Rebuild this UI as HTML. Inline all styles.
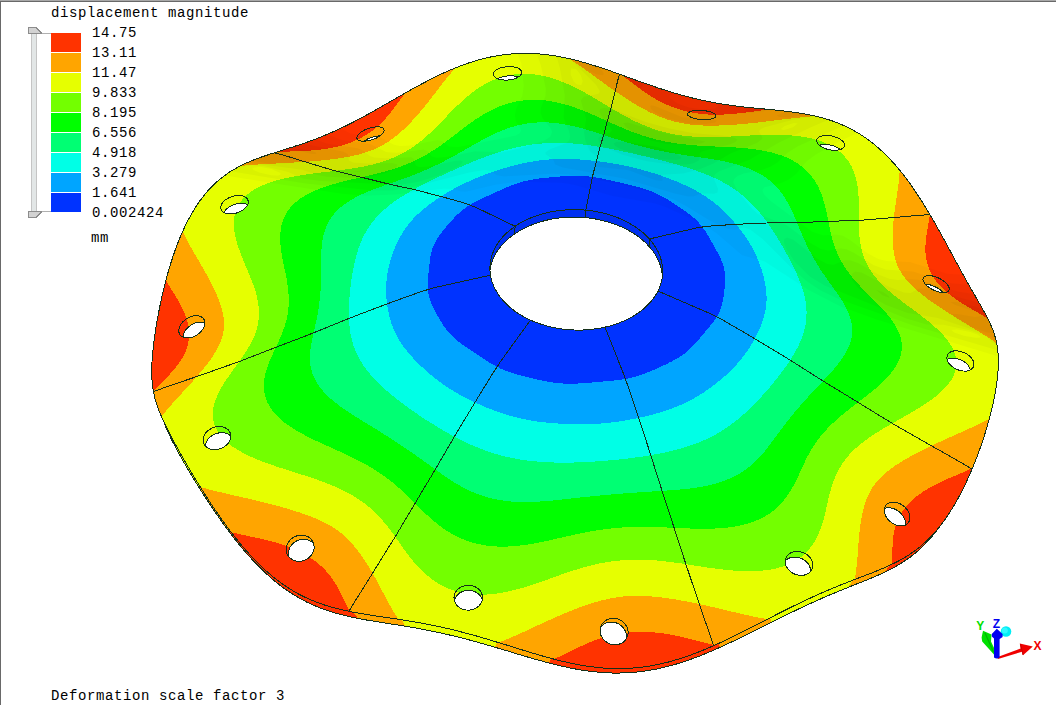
<!DOCTYPE html>
<html><head><meta charset="utf-8"><title>displacement magnitude</title>
<style>
html,body{margin:0;padding:0;background:#fff;}
body{width:1056px;height:705px;position:relative;overflow:hidden;font-family:"Liberation Mono",monospace;color:#000;}
.t{position:absolute;font-size:14px;line-height:14px;letter-spacing:0.6px;white-space:pre;}
.sw{position:absolute;left:51px;width:30px;height:19px;}
</style></head><body>
<div style="position:absolute;left:0;top:0;width:1056px;height:1px;background:#a8a8a8"></div>
<div style="position:absolute;left:0;top:1px;width:1056px;height:1px;background:#696969"></div>
<div style="position:absolute;left:0;top:1px;width:1px;height:704px;background:#696969"></div>
<svg width="1056" height="705" viewBox="0 0 1056 705" style="position:absolute;left:0;top:0" shape-rendering="crispEdges">
<defs><clipPath id="oc"><path d="M998.3 363.3L998.3 361.1L998.3 358.9L998.2 356.7L998.1 354.6L998 352.6L997.8 350.6L997.5 348.6L997.3 346.7L996.9 344.8L996.6 342.9L996.2 341.1L995.8 339.3L995.3 337.5L994.8 335.8L994.3 334L993.7 332.3L993.1 330.6L992.5 329L991.8 327.3L991.1 325.6L990.4 324L989.6 322.3L988.8 320.7L988 319L987.2 317.4L986.3 315.7L985.4 314L984.5 312.3L983.5 310.5L982.5 308.8L981.5 307L980.5 305.2L979.4 303.3L978.3 301.5L977.2 299.5L976.1 297.6L975 295.6L973.8 293.6L972.6 291.5L971.4 289.4L970.2 287.2L968.9 285L967.6 282.7L966.3 280.4L965 278L963.7 275.6L962.3 273.2L960.9 270.7L959.5 268.1L958.1 265.5L956.7 262.9L955.2 260.2L953.7 257.4L952.2 254.7L950.7 251.8L949.1 249L947.6 246.1L946 243.2L944.4 240.2L942.7 237.2L941.1 234.2L939.4 231.1L937.7 228.1L935.9 225L934.2 221.9L932.4 218.8L930.6 215.7L928.7 212.6L926.9 209.5L925 206.4L923.1 203.3L921.1 200.2L919.1 197.1L917.1 194L915.1 191L913.1 188L911 185L908.8 182L906.7 179.1L904.5 176.3L902.3 173.4L900.1 170.6L897.8 167.9L895.5 165.2L893.1 162.6L890.8 160L888.4 157.5L886 155L883.5 152.6L881 150.3L878.5 148L875.9 145.8L873.3 143.7L870.7 141.7L868.1 139.7L865.4 137.8L862.7 135.9L860 134.2L857.2 132.5L854.4 130.9L851.6 129.3L848.7 127.9L845.9 126.5L843 125.2L840 123.9L837.1 122.7L834.1 121.6L831.1 120.5L828.1 119.6L825 118.6L822 117.8L818.9 117L815.8 116.2L812.6 115.5L809.5 114.8L806.3 114.2L803.1 113.7L799.9 113.1L796.7 112.6L793.4 112.2L790.2 111.7L786.9 111.3L783.6 111L780.3 110.6L777 110.2L773.7 109.9L770.3 109.6L767 109.3L763.6 108.9L760.2 108.6L756.8 108.3L753.5 107.9L750.1 107.6L746.6 107.2L743.2 106.9L739.8 106.5L736.4 106L732.9 105.6L729.5 105.1L726 104.6L722.6 104.1L719.1 103.5L715.6 102.9L712.1 102.3L708.6 101.6L705.2 100.9L701.7 100.1L698.2 99.3L694.6 98.5L691.1 97.7L687.6 96.7L684.1 95.8L680.6 94.8L677 93.8L673.5 92.8L669.9 91.7L666.4 90.6L662.8 89.4L659.3 88.3L655.7 87.1L652.2 85.8L648.6 84.6L645 83.3L641.4 82.1L637.8 80.8L634.2 79.5L630.6 78.2L627 76.9L623.4 75.6L619.8 74.3L616.2 73L612.5 71.7L608.9 70.4L605.3 69.2L601.6 68L598 66.8L594.3 65.6L590.7 64.5L587 63.4L583.4 62.3L579.7 61.3L576 60.3L572.4 59.4L568.7 58.6L565 57.7L561.3 57L557.6 56.3L554 55.7L550.3 55.2L546.6 54.7L542.9 54.3L539.2 53.9L535.5 53.7L531.8 53.5L528.2 53.4L524.5 53.4L520.8 53.4L517.1 53.6L513.5 53.8L509.8 54.1L506.1 54.5L502.5 54.9L498.8 55.5L495.2 56.1L491.5 56.8L487.9 57.6L484.2 58.4L480.6 59.4L477 60.4L473.4 61.5L469.8 62.6L466.2 63.8L462.7 65.1L459.1 66.5L455.5 67.9L452 69.3L448.5 70.8L444.9 72.4L441.4 74L437.9 75.7L434.5 77.4L431 79.1L427.5 80.9L424.1 82.7L420.6 84.5L417.2 86.4L413.8 88.2L410.4 90.1L407.1 92L403.7 93.9L400.4 95.8L397 97.7L393.7 99.6L390.4 101.5L387.1 103.4L383.8 105.3L380.6 107.1L377.3 109L374.1 110.8L370.9 112.6L367.7 114.4L364.5 116.1L361.4 117.8L358.2 119.5L355.1 121.1L351.9 122.8L348.8 124.3L345.7 125.9L342.7 127.3L339.6 128.8L336.6 130.2L333.5 131.6L330.5 132.9L327.5 134.2L324.5 135.4L321.6 136.7L318.6 137.8L315.7 139L312.8 140.1L309.9 141.1L307 142.2L304.1 143.2L301.2 144.2L298.4 145.1L295.6 146L292.8 147L290 147.8L287.2 148.7L284.5 149.6L281.8 150.4L279.1 151.3L276.4 152.1L273.7 153L271 153.8L268.4 154.7L265.8 155.6L263.2 156.4L260.7 157.3L258.1 158.3L255.6 159.2L253.1 160.2L250.6 161.2L248.2 162.2L245.7 163.3L243.4 164.4L241 165.6L238.6 166.8L236.3 168.1L234 169.4L231.8 170.7L229.5 172.1L227.3 173.6L225.1 175.2L223 176.8L220.9 178.4L218.8 180.1L216.7 181.9L214.7 183.8L212.7 185.7L210.8 187.7L208.8 189.8L206.9 191.9L205.1 194.1L203.3 196.4L201.5 198.7L199.7 201.1L198 203.6L196.3 206.1L194.6 208.7L193 211.4L191.4 214.1L189.9 216.9L188.3 219.7L186.9 222.6L185.4 225.5L184 228.5L182.6 231.5L181.3 234.6L179.9 237.8L178.7 240.9L177.4 244.1L176.2 247.3L175 250.6L173.9 253.9L172.7 257.2L171.7 260.5L170.6 263.8L169.6 267.2L168.6 270.5L167.6 273.9L166.7 277.2L165.8 280.6L165 283.9L164.1 287.3L163.3 290.6L162.5 293.9L161.8 297.2L161.1 300.4L160.4 303.7L159.7 306.9L159.1 310L158.5 313.2L157.9 316.3L157.3 319.3L156.8 322.3L156.3 325.3L155.8 328.2L155.4 331.1L155 333.9L154.6 336.7L154.2 339.5L153.8 342.1L153.5 344.8L153.2 347.3L153 349.8L152.7 352.3L152.5 354.7L152.3 357.1L152.2 359.4L152 361.7L151.9 363.9L151.8 366L151.8 368.1L151.8 370.2L151.8 372.2L151.8 374.2L151.8 376.2L151.9 378.1L152 380L152.2 381.8L152.3 383.6L152.5 385.4L152.7 387.2L153 388.9L153.3 390.6L153.6 392.3L153.9 394L154.3 395.7L154.7 397.4L155.1 399.1L155.6 400.8L156.1 402.5L156.7 404.1L157.2 405.8L157.8 407.6L158.5 409.3L159.1 411L159.8 412.8L160.6 414.6L161.4 416.4L162.2 418.2L163 420.1L163.9 422L164.8 423.9L165.8 425.9L166.8 427.9L167.8 430L168.8 432L169.9 434.2L171.1 436.3L172.3 438.6L173.5 440.8L174.7 443.1L176 445.5L177.3 447.8L178.7 450.3L180 452.8L181.5 455.3L182.9 457.8L184.4 460.4L186 463.1L187.5 465.8L189.1 468.5L190.7 471.3L192.4 474L194.1 476.9L195.8 479.7L197.6 482.6L199.4 485.5L201.2 488.5L203.1 491.4L205 494.4L206.9 497.4L208.8 500.4L210.8 503.4L212.8 506.4L214.8 509.4L216.9 512.4L219 515.5L221.1 518.5L223.2 521.5L225.4 524.5L227.6 527.5L229.8 530.4L232 533.3L234.3 536.3L236.6 539.1L238.9 542L241.2 544.8L243.6 547.6L245.9 550.3L248.3 553L250.7 555.7L253.2 558.3L255.6 560.8L258.1 563.3L260.6 565.7L263.1 568.1L265.6 570.5L268.2 572.7L270.8 574.9L273.3 577.1L276 579.1L278.6 581.1L281.2 583.1L283.9 585L286.6 586.8L289.3 588.5L292 590.2L294.7 591.8L297.5 593.4L300.2 594.9L303 596.3L305.8 597.6L308.7 598.9L311.5 600.2L314.4 601.3L317.3 602.4L320.2 603.5L323.1 604.5L326 605.5L329 606.4L331.9 607.2L334.9 608.1L337.9 608.8L341 609.6L344 610.3L347.1 610.9L350.2 611.6L353.3 612.2L356.4 612.8L359.5 613.3L362.7 613.8L365.9 614.4L369 614.9L372.3 615.4L375.5 615.9L378.7 616.4L382 616.8L385.3 617.3L388.6 617.8L391.9 618.3L395.2 618.8L398.6 619.3L401.9 619.8L405.3 620.4L408.7 620.9L412.1 621.5L415.5 622.1L418.9 622.7L422.4 623.3L425.9 623.9L429.3 624.6L432.8 625.3L436.3 626L439.8 626.8L443.4 627.6L446.9 628.4L450.4 629.2L454 630.1L457.6 631L461.1 631.9L464.7 632.8L468.3 633.8L471.9 634.7L475.5 635.7L479.1 636.8L482.7 637.8L486.3 638.9L490 640L493.6 641.1L497.2 642.2L500.9 643.3L504.5 644.4L508.2 645.5L511.8 646.7L515.5 647.8L519.1 649L522.8 650.1L526.4 651.2L530.1 652.3L533.7 653.4L537.4 654.5L541.1 655.6L544.7 656.6L548.4 657.6L552 658.6L555.7 659.6L559.4 660.5L563 661.4L566.7 662.2L570.3 663L574 663.8L577.6 664.5L581.3 665.2L584.9 665.8L588.6 666.3L592.2 666.8L595.9 667.3L599.5 667.7L603.2 668L606.8 668.2L610.5 668.4L614.1 668.5L617.7 668.6L621.4 668.6L625 668.5L628.6 668.3L632.3 668.1L635.9 667.8L639.5 667.4L643.2 667L646.8 666.5L650.4 665.9L654 665.2L657.6 664.5L661.3 663.7L664.9 662.9L668.5 662L672.1 661L675.7 659.9L679.3 658.8L682.9 657.7L686.5 656.5L690.1 655.2L693.7 653.9L697.2 652.5L700.8 651.1L704.4 649.6L708 648.1L711.5 646.6L715.1 645L718.6 643.4L722.1 641.8L725.7 640.1L729.2 638.5L732.7 636.8L736.2 635.1L739.6 633.3L743.1 631.6L746.6 629.9L750 628.1L753.4 626.4L756.9 624.6L760.3 622.9L763.7 621.1L767 619.4L770.4 617.7L773.7 616L777 614.3L780.3 612.6L783.6 611L786.9 609.3L790.1 607.7L793.3 606.1L796.5 604.6L799.7 603L802.9 601.5L806 600.1L809.1 598.6L812.2 597.2L815.2 595.8L818.3 594.5L821.3 593.1L824.3 591.8L827.2 590.6L830.2 589.3L833.1 588.1L835.9 586.9L838.8 585.7L841.6 584.6L844.4 583.5L847.2 582.4L849.9 581.3L852.6 580.3L855.3 579.2L858 578.2L860.6 577.2L863.2 576.2L865.8 575.2L868.3 574.2L870.9 573.3L873.4 572.3L875.8 571.3L878.3 570.3L880.7 569.3L883.1 568.3L885.5 567.2L887.8 566.2L890.1 565.1L892.4 564L894.7 562.9L897 561.8L899.2 560.6L901.4 559.4L903.6 558.2L905.7 556.9L907.9 555.5L910 554.2L912.1 552.7L914.1 551.3L916.2 549.8L918.2 548.2L920.3 546.6L922.2 544.9L924.2 543.1L926.2 541.3L928.1 539.5L930 537.5L931.9 535.5L933.8 533.5L935.7 531.4L937.5 529.2L939.3 527L941.1 524.7L942.9 522.3L944.7 519.9L946.4 517.4L948.1 514.8L949.8 512.2L951.5 509.6L953.2 506.8L954.8 504.1L956.5 501.2L958.1 498.4L959.6 495.4L961.2 492.5L962.7 489.4L964.2 486.4L965.7 483.3L967.2 480.2L968.6 477L970 473.8L971.4 470.6L972.8 467.4L974.1 464.1L975.4 460.8L976.7 457.5L977.9 454.3L979.1 451L980.3 447.7L981.5 444.4L982.6 441.1L983.7 437.8L984.7 434.5L985.7 431.2L986.7 428L987.6 424.8L988.5 421.5L989.4 418.4L990.2 415.2L991 412.1L991.8 409L992.5 406L993.2 403L993.8 400L994.4 397.1L995 394.2L995.5 391.3L995.9 388.5L996.4 385.8L996.8 383.1L997.1 380.4L997.4 377.9L997.7 375.3L997.9 372.8L998.1 370.4L998.2 368L998.3 365.6Z"/></clipPath></defs>
<path d="M997.3 346.7L996.9 344.8L996.6 342.9L996.2 341.1L995.8 339.3L995.3 337.5L994.8 335.8L994.3 334L993.7 332.3L993.1 330.6L992.5 329L991.8 327.3L991.1 325.6L990.4 324L989.6 322.3L988.8 320.7L984.9 331L985.7 332.6L986.5 334.3L987.3 335.9L988 337.6L988.7 339.2L989.3 340.9L989.9 342.5L990.5 344.2L991.1 345.9L991.6 347.6L992.1 349.3L992.5 351.1L992.9 352.8L993.3 354.6L993.6 356.4Z" fill="#ffa500"/>
<path d="M988.8 320.7L988 319L987.2 317.4L986.3 315.7L985.4 314L984.5 312.3L983.5 310.5L982.5 308.8L981.5 307L980.5 305.2L979.4 303.3L978.3 301.5L977.2 299.5L976.1 297.6L975 295.6L973.8 293.6L972.6 291.5L971.4 289.4L970.2 287.2L968.9 285L967.6 282.7L966.3 280.4L965 278L963.7 275.6L962.3 273.2L960.9 270.7L959.5 268.1L958.1 265.5L956.7 262.9L955.2 260.2L953.7 257.4L952.2 254.7L950.7 251.8L949.1 249L947.6 246.1L946 243.2L944.4 240.2L942.7 237.2L941.1 234.2L939.4 231.1L937.7 228.1L935.9 225L934.2 221.9L932.4 218.8L930.6 215.7L928.7 212.6L926.9 209.5L921.2 216.5L923 219.6L924.8 222.7L926.6 225.8L928.4 229L930.2 232.1L932 235.2L933.7 238.3L935.4 241.4L937.1 244.5L938.8 247.6L940.5 250.6L942.1 253.6L943.7 256.6L945.3 259.6L946.9 262.5L948.5 265.4L950 268.2L951.6 271.1L953.1 273.8L954.6 276.5L956 279.2L957.5 281.8L958.9 284.4L960.3 287L961.7 289.4L963 291.9L964.4 294.2L965.7 296.5L967 298.8L968.3 301L969.5 303.2L970.7 305.3L971.9 307.4L973.1 309.4L974.2 311.4L975.3 313.3L976.4 315.2L977.5 317.1L978.5 318.9L979.5 320.7L980.5 322.5L981.4 324.2L982.3 325.9L983.2 327.6L984.1 329.3L984.9 331Z" fill="#ff3300"/>
<path d="M926.9 209.5L925 206.4L923.1 203.3L921.1 200.2L919.1 197.1L917.1 194L915.1 191L913.1 188L911 185L908.8 182L906.7 179.1L904.5 176.3L902.3 173.4L900.1 170.6L897.8 167.9L895.5 165.2L890.9 173.2L893.1 175.8L895.2 178.4L897.4 181.1L899.5 183.8L901.5 186.6L903.6 189.4L905.6 192.3L907.6 195.2L909.6 198.2L911.6 201.2L913.6 204.2L915.5 207.2L917.4 210.3L919.3 213.4L921.2 216.5Z" fill="#ffa500"/>
<path d="M895.5 165.2L893.1 162.6L890.8 160L888.4 157.5L886 155L883.5 152.6L881 150.3L878.5 148L875.9 145.8L873.3 143.7L870.7 141.7L868.1 139.7L865.4 137.8L862.7 135.9L860 134.2L857.2 132.5L854.4 130.9L851.6 129.3L848.7 127.9L845.9 126.5L843 125.2L840 123.9L837.1 122.7L834.1 121.6L831.1 120.5L828.1 119.6L825 118.6L822 117.8L821.9 128.7L824.8 129.5L827.7 130.4L830.6 131.3L833.5 132.3L836.3 133.3L839.1 134.4L841.9 135.6L844.6 136.8L847.3 138.1L850 139.5L852.6 140.9L855.3 142.4L857.8 144L860.4 145.6L862.9 147.3L865.4 149.1L867.8 151L870.3 152.9L872.7 154.9L875 156.9L877.4 159.1L879.7 161.3L882 163.5L884.3 165.8L886.5 168.2L888.7 170.7L890.9 173.2Z" fill="#e6ff00"/>
<path d="M822 117.8L818.9 117L815.8 116.2L812.6 115.5L809.5 114.8L806.3 114.2L803.1 113.7L799.9 113.1L796.7 112.6L793.4 112.2L790.2 111.7L786.9 111.3L783.6 111L780.3 110.6L777 110.2L773.7 109.9L774.4 121.2L777.7 121.5L781 121.8L784.3 122.2L787.6 122.6L790.8 123L794 123.4L797.2 123.8L800.4 124.3L803.5 124.8L806.7 125.3L809.8 125.9L812.8 126.6L815.9 127.2L818.9 127.9L821.9 128.7Z" fill="#ffa500"/>
<path d="M773.7 109.9L770.3 109.6L767 109.3L763.6 108.9L760.2 108.6L756.8 108.3L753.5 107.9L750.1 107.6L746.6 107.2L743.2 106.9L739.8 106.5L736.4 106L732.9 105.6L729.5 105.1L726 104.6L722.6 104.1L719.1 103.5L715.6 102.9L712.1 102.3L708.6 101.6L705.2 100.9L701.7 100.1L698.2 99.3L694.6 98.5L691.1 97.7L687.6 96.7L684.1 95.8L680.6 94.8L677 93.8L673.5 92.8L669.9 91.7L666.4 90.6L662.8 89.4L659.3 88.3L655.7 87.1L652.2 85.8L648.6 84.6L645 83.3L641.4 82.1L637.8 80.8L634.2 79.5L630.6 78.2L627 76.9L623.4 75.6L619.8 74.3L616.2 73L612.5 71.7L608.4 81.8L612.1 83.1L615.7 84.4L619.3 85.7L623 87L626.6 88.4L630.3 89.7L633.9 91L637.6 92.3L641.2 93.6L644.9 94.9L648.6 96.2L652.3 97.4L655.9 98.7L659.6 99.9L663.3 101.1L667 102.2L670.7 103.4L674.4 104.5L678.1 105.5L681.8 106.5L685.5 107.5L689.2 108.5L692.8 109.4L696.5 110.2L700.2 111.1L703.9 111.9L707.5 112.6L711.2 113.3L714.8 114L718.4 114.6L722.1 115.2L725.7 115.8L729.2 116.3L732.8 116.8L736.4 117.2L739.9 117.7L743.4 118.1L747 118.5L750.4 118.8L753.9 119.2L757.4 119.5L760.8 119.9L764.2 120.2L767.6 120.5L771 120.8L774.4 121.2Z" fill="#ff3300"/>
<path d="M612.5 71.7L608.9 70.4L605.3 69.2L601.6 68L598 66.8L594.3 65.6L590.7 64.5L587 63.4L583.4 62.3L579.7 61.3L576 60.3L572.4 59.4L568.7 58.6L565 57.7L561.3 57L557.6 56.3L554.9 66.6L558.5 67.3L562 68L565.5 68.8L569 69.6L572.6 70.5L576.1 71.5L579.7 72.5L583.3 73.5L586.9 74.6L590.4 75.7L594 76.9L597.6 78.1L601.2 79.3L604.8 80.6L608.4 81.8Z" fill="#ffa500"/>
<path d="M557.6 56.3L554 55.7L550.3 55.2L546.6 54.7L542.9 54.3L539.2 53.9L535.5 53.7L531.8 53.5L528.2 53.4L524.5 53.4L520.8 53.4L517.1 53.6L513.5 53.8L509.8 54.1L506.1 54.5L502.5 54.9L498.8 55.5L495.2 56.1L491.5 56.8L487.9 57.6L484.2 58.4L480.6 59.4L477 60.4L473.4 61.5L469.8 62.6L466.2 63.8L462.7 65.1L459.1 66.5L462.4 76.2L465.8 74.9L469.2 73.6L472.6 72.5L476 71.4L479.4 70.3L482.8 69.4L486.2 68.5L489.6 67.7L493 66.9L496.4 66.2L499.8 65.7L503.2 65.1L506.6 64.7L510 64.4L513.4 64.1L516.9 63.9L520.3 63.7L523.7 63.7L527.2 63.7L530.6 63.8L534.1 64L537.5 64.3L541 64.6L544.5 65L547.9 65.5L551.4 66L554.9 66.6Z" fill="#e6ff00"/>
<path d="M459.1 66.5L455.5 67.9L452 69.3L448.5 70.8L444.9 72.4L441.4 74L437.9 75.7L434.5 77.4L431 79.1L427.5 80.9L424.1 82.7L420.6 84.5L417.2 86.4L413.8 88.2L410.4 90.1L407.1 92L411.6 101.4L415 99.5L418.4 97.6L421.8 95.8L425.1 93.9L428.5 92.1L431.9 90.3L435.3 88.6L438.7 86.9L442.1 85.2L445.5 83.6L448.9 82L452.3 80.4L455.7 79L459.1 77.5L462.4 76.2Z" fill="#ffa500"/>
<path d="M407.1 92L403.7 93.9L400.4 95.8L397 97.7L393.7 99.6L390.4 101.5L387.1 103.4L383.8 105.3L380.6 107.1L377.3 109L374.1 110.8L370.9 112.6L367.7 114.4L364.5 116.1L361.4 117.8L358.2 119.5L355.1 121.1L351.9 122.8L348.8 124.3L345.7 125.9L342.7 127.3L339.6 128.8L336.6 130.2L333.5 131.6L330.5 132.9L327.5 134.2L324.5 135.4L321.6 136.7L318.6 137.8L315.7 139L312.8 140.1L309.9 141.1L307 142.2L304.1 143.2L301.2 144.2L298.4 145.1L295.6 146L292.8 147L290 147.8L287.2 148.7L284.5 149.6L281.8 150.4L279.1 151.3L276.4 152.1L273.7 153L271 153.8L268.4 154.7L268.8 166L271.5 165.1L274.1 164.3L276.8 163.4L279.5 162.6L282.3 161.7L285 160.8L287.8 160L290.7 159.1L293.5 158.2L296.4 157.2L299.3 156.3L302.2 155.3L305.1 154.3L308.1 153.2L311.1 152.2L314.1 151.1L317.2 149.9L320.2 148.7L323.3 147.5L326.4 146.2L329.5 144.9L332.7 143.6L335.8 142.2L339 140.7L342.2 139.2L345.4 137.7L348.7 136.2L351.9 134.6L355.1 132.9L358.4 131.2L361.7 129.5L365 127.8L368.2 126L371.5 124.2L374.9 122.4L378.2 120.5L381.5 118.7L384.8 116.8L388.2 114.9L391.5 112.9L394.8 111L398.2 109.1L401.6 107.2L404.9 105.2L408.3 103.3L411.6 101.4Z" fill="#ff3300"/>
<path d="M268.4 154.7L265.8 155.6L263.2 156.4L260.7 157.3L258.1 158.3L255.6 159.2L253.1 160.2L250.6 161.2L248.2 162.2L245.7 163.3L243.4 164.4L241 165.6L238.6 166.8L236.3 168.1L234 169.4L231.8 170.7L232.8 181.5L234.9 180.2L237.2 178.9L239.4 177.7L241.7 176.6L244 175.5L246.4 174.4L248.7 173.4L251.1 172.4L253.6 171.4L256.1 170.4L258.6 169.5L261.1 168.6L263.6 167.7L266.2 166.8L268.8 166Z" fill="#ffa500"/>
<path d="M231.8 170.7L229.5 172.1L227.3 173.6L225.1 175.2L223 176.8L220.9 178.4L218.8 180.1L216.7 181.9L214.7 183.8L212.7 185.7L210.8 187.7L208.8 189.8L206.9 191.9L205.1 194.1L203.3 196.4L201.5 198.7L199.7 201.1L198 203.6L196.3 206.1L194.6 208.7L193 211.4L191.4 214.1L189.9 216.9L188.3 219.7L186.9 222.6L185.4 225.5L184 228.5L182.6 231.5L186.7 238.6L188 235.7L189.3 232.8L190.6 230L192 227.3L193.4 224.6L194.8 222L196.3 219.4L197.8 217L199.3 214.5L200.9 212.1L202.5 209.8L204.1 207.6L205.8 205.4L207.5 203.3L209.2 201.3L211 199.3L212.8 197.4L214.6 195.5L216.5 193.7L218.4 192L220.4 190.3L222.3 188.7L224.4 187.1L226.4 185.6L228.5 184.2L230.6 182.8L232.8 181.5Z" fill="#e6ff00"/>
<path d="M182.6 231.5L181.3 234.6L179.9 237.8L178.7 240.9L177.4 244.1L176.2 247.3L175 250.6L173.9 253.9L172.7 257.2L171.7 260.5L170.6 263.8L169.6 267.2L168.6 270.5L167.6 273.9L166.7 277.2L171.5 283.3L172.4 280L173.4 276.6L174.3 273.3L175.3 270L176.3 266.7L177.4 263.4L178.4 260.2L179.5 257L180.7 253.8L181.8 250.7L183 247.6L184.2 244.6L185.4 241.6L186.7 238.6Z" fill="#ffa500"/>
<path d="M166.7 277.2L165.8 280.6L165 283.9L164.1 287.3L163.3 290.6L162.5 293.9L161.8 297.2L161.1 300.4L160.4 303.7L159.7 306.9L159.1 310L158.5 313.2L157.9 316.3L157.3 319.3L156.8 322.3L156.3 325.3L155.8 328.2L155.4 331.1L155 333.9L154.6 336.7L154.2 339.5L153.8 342.1L153.5 344.8L153.2 347.3L153 349.8L152.7 352.3L152.5 354.7L152.3 357.1L152.2 359.4L152 361.7L151.9 363.9L151.8 366L151.8 368.1L151.8 370.2L151.8 372.2L151.8 374.2L151.8 376.2L151.9 378.1L152 380L152.2 381.8L152.3 383.6L152.5 385.4L152.7 387.2L153 388.9L153.3 390.6L153.6 392.3L153.9 394L154.3 395.7L158.7 405.3L158.4 403.6L158 401.9L157.7 400.2L157.5 398.4L157.2 396.7L157 394.9L156.8 393.1L156.6 391.2L156.5 389.3L156.4 387.4L156.3 385.5L156.2 383.5L156.2 381.4L156.2 379.3L156.2 377.2L156.3 375L156.4 372.7L156.5 370.4L156.6 368L156.8 365.6L157 363.1L157.2 360.6L157.5 358L157.8 355.4L158.1 352.7L158.4 349.9L158.8 347.1L159.1 344.3L159.6 341.4L160 338.4L160.5 335.4L161 332.4L161.5 329.3L162 326.1L162.6 323L163.2 319.8L163.8 316.6L164.5 313.3L165.2 310L165.9 306.7L166.6 303.4L167.4 300.1L168.1 296.7L169 293.4L169.8 290L170.6 286.7L171.5 283.3Z" fill="#ff3300"/>
<path d="M154.3 395.7L154.7 397.4L155.1 399.1L155.6 400.8L156.1 402.5L156.7 404.1L157.2 405.8L157.8 407.6L158.5 409.3L159.1 411L159.8 412.8L160.6 414.6L161.4 416.4L162.2 418.2L163 420.1L166.8 429.2L166 427.4L165.3 425.6L164.6 423.9L163.9 422.1L163.2 420.4L162.6 418.7L162 417L161.5 415.3L160.9 413.7L160.4 412L160 410.3L159.5 408.6L159.1 407L158.7 405.3Z" fill="#ffa500"/>
<path d="M163 420.1L163.9 422L164.8 423.9L165.8 425.9L166.8 427.9L167.8 430L168.8 432L169.9 434.2L171.1 436.3L172.3 438.6L173.5 440.8L174.7 443.1L176 445.5L177.3 447.8L178.7 450.3L180 452.8L181.5 455.3L182.9 457.8L184.4 460.4L186 463.1L187.5 465.8L189.1 468.5L190.7 471.3L192.4 474L194.1 476.9L195.8 479.7L197.6 482.6L199.4 485.5L200.9 490.6L199.2 487.8L197.5 485.1L195.8 482.4L194.2 479.8L192.6 477.2L191 474.6L189.5 472L188 469.5L186.6 467.1L185.2 464.7L183.8 462.3L182.5 459.9L181.2 457.6L179.9 455.4L178.7 453.1L177.5 451L176.3 448.8L175.2 446.7L174.2 444.6L173.1 442.6L172.1 440.6L171.1 438.6L170.2 436.7L169.3 434.7L168.4 432.9L167.6 431L166.8 429.2Z" fill="#e6ff00"/>
<path d="M199.4 485.5L201.2 488.5L203.1 491.4L205 494.4L206.9 497.4L208.8 500.4L210.8 503.4L212.8 506.4L214.8 509.4L216.9 512.4L219 515.5L221.1 518.5L223.2 521.5L225.4 524.5L227.6 527.5L229.8 530.4L231 534.2L228.8 531.3L226.6 528.3L224.5 525.4L222.3 522.4L220.2 519.5L218.2 516.5L216.1 513.6L214.1 510.6L212.1 507.7L210.2 504.8L208.3 501.9L206.4 499L204.5 496.2L202.7 493.4L200.9 490.6Z" fill="#ffa500"/>
<path d="M229.8 530.4L232 533.3L234.3 536.3L236.6 539.1L238.9 542L241.2 544.8L243.6 547.6L245.9 550.3L248.3 553L250.7 555.7L253.2 558.3L255.6 560.8L258.1 563.3L260.6 565.7L263.1 568.1L265.6 570.5L268.2 572.7L270.8 574.9L273.3 577.1L276 579.1L278.6 581.1L281.2 583.1L283.9 585L286.6 586.8L289.3 588.5L292 590.2L294.7 591.8L297.5 593.4L300.2 594.9L303 596.3L305.8 597.6L308.7 598.9L311.5 600.2L314.4 601.3L317.3 602.4L320.2 603.5L323.1 604.5L326 605.5L329 606.4L331.9 607.2L334.9 608.1L337.9 608.8L341 609.6L344 610.3L347.1 610.9L350.2 611.6L353.3 612.2L358.2 618.4L355.1 617.8L352 617.2L348.9 616.5L345.9 615.8L342.8 615L339.7 614.2L336.7 613.4L333.7 612.5L330.6 611.6L327.6 610.6L324.6 609.6L321.6 608.5L318.6 607.3L315.7 606.1L312.7 604.8L309.8 603.5L306.8 602.1L303.9 600.6L301 599L298.1 597.4L295.3 595.7L292.4 594L289.6 592.1L286.8 590.2L284 588.3L281.2 586.2L278.5 584.1L275.7 581.9L273 579.7L270.4 577.4L267.7 575L265.1 572.6L262.5 570.1L259.9 567.6L257.3 565L254.8 562.4L252.3 559.7L249.8 557L247.4 554.3L245 551.5L242.6 548.7L240.2 545.8L237.9 543L235.6 540.1L233.3 537.2L231 534.2Z" fill="#ff3300"/>
<path d="M353.3 612.2L356.4 612.8L359.5 613.3L362.7 613.8L365.9 614.4L369 614.9L372.3 615.4L375.5 615.9L378.7 616.4L382 616.8L385.3 617.3L388.6 617.8L391.9 618.3L395.2 618.8L398.6 619.3L401.9 619.8L405.5 626.3L402.3 625.7L399.1 625.2L395.9 624.7L392.7 624.2L389.5 623.7L386.4 623.2L383.2 622.7L380.1 622.2L376.9 621.7L373.8 621.2L370.6 620.7L367.5 620.2L364.4 619.6L361.3 619L358.2 618.4Z" fill="#ffa500"/>
<path d="M401.9 619.8L405.3 620.4L408.7 620.9L412.1 621.5L415.5 622.1L418.9 622.7L422.4 623.3L425.9 623.9L429.3 624.6L432.8 625.3L436.3 626L439.8 626.8L443.4 627.6L446.9 628.4L450.4 629.2L454 630.1L457.6 631L461.1 631.9L464.7 632.8L468.3 633.8L471.9 634.7L475.5 635.7L479.1 636.8L482.7 637.8L486.3 638.9L490 640L493.6 641.1L497.2 642.2L494.9 647.2L491.5 646.2L488 645.2L484.6 644.2L481.1 643.2L477.7 642.3L474.3 641.3L470.9 640.4L467.6 639.5L464.2 638.6L460.9 637.8L457.5 636.9L454.2 636.1L450.9 635.3L447.6 634.6L444.3 633.8L441 633.1L437.7 632.4L434.5 631.7L431.2 631L428 630.3L424.8 629.7L421.5 629.1L418.3 628.5L415.1 627.9L411.9 627.4L408.7 626.8L405.5 626.3Z" fill="#e6ff00"/>
<path d="M497.2 642.2L500.9 643.3L504.5 644.4L508.2 645.5L511.8 646.7L515.5 647.8L519.1 649L522.8 650.1L526.4 651.2L530.1 652.3L533.7 653.4L537.4 654.5L541.1 655.6L544.7 656.6L548.4 657.6L552 658.6L548.6 662.9L544.9 661.9L541.3 660.9L537.6 659.9L534 658.9L530.4 657.8L526.8 656.8L523.2 655.7L519.6 654.7L516.1 653.6L512.5 652.5L509 651.4L505.5 650.4L501.9 649.3L498.4 648.3L494.9 647.2Z" fill="#ffa500"/>
<path d="M552 658.6L555.7 659.6L559.4 660.5L563 661.4L566.7 662.2L570.3 663L574 663.8L577.6 664.5L581.3 665.2L584.9 665.8L588.6 666.3L592.2 666.8L595.9 667.3L599.5 667.7L603.2 668L606.8 668.2L610.5 668.4L614.1 668.5L617.7 668.6L621.4 668.6L625 668.5L628.6 668.3L632.3 668.1L635.9 667.8L639.5 667.4L643.2 667L646.8 666.5L650.4 665.9L654 665.2L657.6 664.5L661.3 663.7L664.9 662.9L668.5 662L672.1 661L675.7 659.9L679.3 658.8L682.9 657.7L686.5 656.5L690.1 655.2L693.7 653.9L697.2 652.5L700.8 651.1L704.4 649.6L708 648.1L711.5 646.6L715.1 645L718.6 643.4L720.1 647.3L716.6 648.9L713 650.5L709.4 652L705.8 653.5L702.2 655L698.6 656.4L694.9 657.8L691.3 659.1L687.6 660.4L683.9 661.7L680.2 662.9L676.5 664L672.8 665.1L669 666.1L665.3 667L661.5 667.9L657.8 668.8L654 669.5L650.2 670.2L646.4 670.8L642.6 671.3L638.8 671.8L635 672.2L631.2 672.5L627.4 672.8L623.6 672.9L619.7 673L615.9 673L612.1 673L608.3 672.8L604.5 672.6L600.8 672.4L597 672L593.2 671.7L589.4 671.2L585.7 670.7L581.9 670.1L578.2 669.5L574.4 668.8L570.7 668.1L567 667.3L563.3 666.5L559.6 665.7L555.9 664.8L552.2 663.9L548.6 662.9Z" fill="#ff3300"/>
<path d="M718.6 643.4L722.1 641.8L725.7 640.1L729.2 638.5L732.7 636.8L736.2 635.1L739.6 633.3L743.1 631.6L746.6 629.9L750 628.1L753.4 626.4L756.9 624.6L760.3 622.9L763.7 621.1L767 619.4L770.4 617.7L770.8 622.6L767.6 624.2L764.4 625.8L761.1 627.4L757.8 629.1L754.5 630.8L751.1 632.4L747.8 634.1L744.4 635.8L741 637.4L737.6 639.1L734.1 640.8L730.6 642.4L727.1 644.1L723.6 645.7L720.1 647.3Z" fill="#ffa500"/>
<path d="M770.4 617.7L773.7 616L777 614.3L780.3 612.6L783.6 611L786.9 609.3L790.1 607.7L793.3 606.1L796.5 604.6L799.7 603L802.9 601.5L806 600.1L809.1 598.6L812.2 597.2L815.2 595.8L818.3 594.5L821.3 593.1L824.3 591.8L827.2 590.6L830.2 589.3L833.1 588.1L835.9 586.9L838.8 585.7L841.6 584.6L844.4 583.5L847.2 582.4L849.9 581.3L852.6 580.3L848 587.5L845.4 588.5L842.9 589.5L840.3 590.6L837.6 591.7L835 592.8L832.3 593.9L829.6 595L826.9 596.2L824.2 597.3L821.5 598.5L818.7 599.8L815.9 601L813.1 602.3L810.2 603.6L807.4 604.9L804.5 606.2L801.5 607.6L798.6 609L795.6 610.4L792.6 611.9L789.6 613.3L786.5 614.8L783.4 616.3L780.3 617.9L777.2 619.4L774 621L770.8 622.6Z" fill="#e6ff00"/>
<path d="M852.6 580.3L855.3 579.2L858 578.2L860.6 577.2L863.2 576.2L865.8 575.2L868.3 574.2L870.9 573.3L873.4 572.3L875.8 571.3L878.3 570.3L880.7 569.3L883.1 568.3L885.5 567.2L887.8 566.2L890.1 565.1L884.4 572.3L882.1 573.4L879.7 574.5L877.4 575.5L875.1 576.5L872.7 577.5L870.3 578.5L867.9 579.5L865.5 580.5L863 581.5L860.6 582.4L858.1 583.4L855.6 584.4L853.1 585.4L850.6 586.4L848 587.5Z" fill="#ffa500"/>
<path d="M890.1 565.1L892.4 564L894.7 562.9L897 561.8L899.2 560.6L901.4 559.4L903.6 558.2L905.7 556.9L907.9 555.5L910 554.2L912.1 552.7L914.1 551.3L916.2 549.8L918.2 548.2L920.3 546.6L922.2 544.9L924.2 543.1L926.2 541.3L928.1 539.5L930 537.5L931.9 535.5L933.8 533.5L935.7 531.4L937.5 529.2L939.3 527L941.1 524.7L942.9 522.3L944.7 519.9L946.4 517.4L948.1 514.8L949.8 512.2L951.5 509.6L953.2 506.8L954.8 504.1L956.5 501.2L958.1 498.4L959.6 495.4L961.2 492.5L962.7 489.4L964.2 486.4L965.7 483.3L967.2 480.2L968.6 477L970 473.8L971.4 470.6L972.8 467.4L974.1 464.1L970.9 468.3L969.5 471.6L968.2 474.8L966.8 478L965.3 481.2L963.9 484.4L962.4 487.6L960.9 490.7L959.3 493.9L957.8 496.9L956.2 500L954.5 503L952.9 506L951.2 508.9L949.5 511.8L947.8 514.6L946 517.4L944.3 520.1L942.5 522.7L940.6 525.3L938.8 527.9L936.9 530.4L935 532.8L933.1 535.1L931.2 537.4L929.2 539.6L927.3 541.8L925.3 543.9L923.3 545.9L921.3 547.8L919.2 549.7L917.2 551.5L915.1 553.3L913 555L910.9 556.6L908.8 558.2L906.6 559.7L904.5 561.1L902.3 562.6L900.1 563.9L897.9 565.2L895.7 566.5L893.5 567.7L891.2 568.9L888.9 570.1L886.7 571.2L884.4 572.3Z" fill="#ff3300"/>
<path d="M974.1 464.1L975.4 460.8L976.7 457.5L977.9 454.3L979.1 451L980.3 447.7L981.5 444.4L982.6 441.1L983.7 437.8L984.7 434.5L985.7 431.2L986.7 428L987.6 424.8L988.5 421.5L989.4 418.4L990.2 415.2L987.1 420.8L986.2 423.8L985.4 426.8L984.5 429.9L983.5 433L982.5 436.1L981.5 439.3L980.5 442.4L979.4 445.6L978.3 448.8L977.1 452.1L975.9 455.3L974.7 458.5L973.5 461.8L972.2 465.1L970.9 468.3Z" fill="#ffa500"/>
<path d="M990.2 415.2L991 412.1L991.8 409L992.5 406L993.2 403L993.8 400L994.4 397.1L995 394.2L995.5 391.3L995.9 388.5L996.4 385.8L996.8 383.1L997.1 380.4L997.4 377.9L997.7 375.3L997.9 372.8L998.1 370.4L998.2 368L998.3 365.6L998.3 363.3L998.3 361.1L998.3 358.9L998.2 356.7L998.1 354.6L998 352.6L997.8 350.6L997.5 348.6L997.3 346.7L993.6 356.4L993.9 358.3L994.2 360.2L994.4 362.1L994.6 364.1L994.7 366L994.8 368.1L994.9 370.1L994.9 372.2L994.9 374.4L994.8 376.6L994.7 378.8L994.5 381.1L994.3 383.4L994.1 385.8L993.8 388.2L993.5 390.7L993.1 393.2L992.7 395.8L992.2 398.4L991.7 401L991.2 403.7L990.6 406.4L990 409.2L989.3 412.1L988.6 414.9L987.9 417.8L987.1 420.8Z" fill="#e6ff00"/>
<path d="M994.9 372.2L994.9 370.1L994.8 368.1L994.7 366L994.6 364.1L994.4 362.1L994.2 360.2L993.9 358.3L993.6 356.4L993.3 354.6L992.9 352.8L992.5 351.1L992.1 349.3L991.6 347.6L991.1 345.9L990.5 344.2L989.9 342.5L989.3 340.9L988.7 339.2L988 337.6L987.3 335.9L986.5 334.3L985.7 332.6L984.9 331L984.1 329.3L983.2 327.6L982.3 325.9L981.4 324.2L980.5 322.5L979.5 320.7L978.5 318.9L977.5 317.1L976.4 315.2L975.3 313.3L974.2 311.4L973.1 309.4L971.9 307.4L970.7 305.3L969.5 303.2L968.3 301L967 298.8L965.7 296.5L964.4 294.2L963 291.9L961.7 289.4L960.3 287L958.9 284.4L957.5 281.8L956 279.2L954.6 276.5L953.1 273.8L951.6 271.1L950 268.2L948.5 265.4L946.9 262.5L945.3 259.6L943.7 256.6L942.1 253.6L940.5 250.6L938.8 247.6L937.1 244.5L935.4 241.4L933.7 238.3L932 235.2L930.2 232.1L928.4 229L926.6 225.8L924.8 222.7L923 219.6L921.2 216.5L919.3 213.4L917.4 210.3L915.5 207.2L913.6 204.2L911.6 201.2L909.6 198.2L907.6 195.2L905.6 192.3L903.6 189.4L901.5 186.6L899.5 183.8L897.4 181.1L895.2 178.4L893.1 175.8L890.9 173.2L888.7 170.7L886.5 168.2L884.3 165.8L882 163.5L879.7 161.3L877.4 159.1L875 156.9L872.7 154.9L870.3 152.9L867.8 151L865.4 149.1L862.9 147.3L860.4 145.6L857.8 144L855.3 142.4L852.6 140.9L850 139.5L847.3 138.1L844.6 136.8L841.9 135.6L839.1 134.4L836.3 133.3L833.5 132.3L830.6 131.3L827.7 130.4L824.8 129.5L821.9 128.7L818.9 127.9L815.9 127.2L812.8 126.6L809.8 125.9L806.7 125.3L803.5 124.8L800.4 124.3L797.2 123.8L794 123.4L790.8 123L787.6 122.6L784.3 122.2L781 121.8L777.7 121.5L774.4 121.2L771 120.8L767.6 120.5L764.2 120.2L760.8 119.9L757.4 119.5L753.9 119.2L750.4 118.8L747 118.5L743.4 118.1L739.9 117.7L736.4 117.2L732.8 116.8L729.2 116.3L725.7 115.8L722.1 115.2L718.4 114.6L714.8 114L711.2 113.3L707.5 112.6L703.9 111.9L700.2 111.1L696.5 110.2L692.8 109.4L689.2 108.5L685.5 107.5L681.8 106.5L678.1 105.5L674.4 104.5L670.7 103.4L667 102.2L663.3 101.1L659.6 99.9L655.9 98.7L652.3 97.4L648.6 96.2L644.9 94.9L641.2 93.6L637.6 92.3L633.9 91L630.3 89.7L626.6 88.4L623 87L619.3 85.7L615.7 84.4L612.1 83.1L608.4 81.8L604.8 80.6L601.2 79.3L597.6 78.1L594 76.9L590.4 75.7L586.9 74.6L583.3 73.5L579.7 72.5L576.1 71.5L572.6 70.5L569 69.6L565.5 68.8L562 68L558.5 67.3L554.9 66.6L551.4 66L547.9 65.5L544.5 65L541 64.6L537.5 64.3L534.1 64L530.6 63.8L527.2 63.7L523.7 63.7L520.3 63.7L516.9 63.9L513.4 64.1L510 64.4L506.6 64.7L503.2 65.1L499.8 65.7L496.4 66.2L493 66.9L489.6 67.7L486.2 68.5L482.8 69.4L479.4 70.3L476 71.4L472.6 72.5L469.2 73.6L465.8 74.9L462.4 76.2L459.1 77.5L455.7 79L452.3 80.4L448.9 82L445.5 83.6L442.1 85.2L438.7 86.9L435.3 88.6L431.9 90.3L428.5 92.1L425.1 93.9L421.8 95.8L418.4 97.6L415 99.5L411.6 101.4L408.3 103.3L404.9 105.2L401.6 107.2L398.2 109.1L394.8 111L391.5 112.9L388.2 114.9L384.8 116.8L381.5 118.7L378.2 120.5L374.9 122.4L371.5 124.2L368.2 126L365 127.8L361.7 129.5L358.4 131.2L355.1 132.9L351.9 134.6L348.7 136.2L345.4 137.7L342.2 139.2L339 140.7L335.8 142.2L332.7 143.6L329.5 144.9L326.4 146.2L323.3 147.5L320.2 148.7L317.2 149.9L314.1 151.1L311.1 152.2L308.1 153.2L305.1 154.3L302.2 155.3L299.3 156.3L296.4 157.2L293.5 158.2L290.7 159.1L287.8 160L285 160.8L282.3 161.7L279.5 162.6L276.8 163.4L274.1 164.3L271.5 165.1L268.8 166L266.2 166.8L263.6 167.7L261.1 168.6L258.6 169.5L256.1 170.4L253.6 171.4L251.1 172.4L248.7 173.4L246.4 174.4L244 175.5L241.7 176.6L239.4 177.7L237.2 178.9L234.9 180.2L232.8 181.5L230.6 182.8L228.5 184.2L226.4 185.6L224.4 187.1L222.3 188.7L220.4 190.3L218.4 192L216.5 193.7L214.6 195.5L212.8 197.4L211 199.3L209.2 201.3L207.5 203.3L205.8 205.4L204.1 207.6L202.5 209.8L200.9 212.1L199.3 214.5L197.8 217L196.3 219.4L194.8 222L193.4 224.6L192 227.3L190.6 230L189.3 232.8L188 235.7L186.7 238.6L185.4 241.6L184.2 244.6L183 247.6L181.8 250.7L180.7 253.8L179.5 257L178.4 260.2L177.4 263.4L176.3 266.7L175.3 270L174.3 273.3L173.4 276.6L172.4 280L171.5 283.3L170.6 286.7L169.8 290L169 293.4L168.1 296.7L167.4 300.1L166.6 303.4L165.9 306.7L165.2 310L164.5 313.3L163.8 316.6L163.2 319.8L162.6 323L162 326.1L161.5 329.3L161 332.4L160.5 335.4L160 338.4L159.6 341.4L159.1 344.3L158.8 347.1L158.4 349.9L158.1 352.7L157.8 355.4L157.5 358L157.2 360.6L157 363.1L156.8 365.6L156.6 368L156.5 370.4L156.4 372.7L156.3 375L156.2 377.2L156.2 379.3L156.2 381.4L156.2 383.5L156.3 385.5L156.4 387.4L156.5 389.3L156.6 391.2L156.8 393.1L157 394.9L157.2 396.7L157.5 398.4L157.7 400.2L158 401.9L158.4 403.6L158.7 405.3L159.1 407L159.5 408.6L160 410.3L160.4 412L160.9 413.7L161.5 415.3L162 417L162.6 418.7L163.2 420.4L163.9 422.1L164.6 423.9L165.3 425.6L166 427.4L166.8 429.2L167.6 431L168.4 432.9L169.3 434.7L170.2 436.7L171.1 438.6L172.1 440.6L173.1 442.6L174.2 444.6L175.2 446.7L176.3 448.8L177.5 451L178.7 453.1L179.9 455.4L181.2 457.6L182.5 459.9L183.8 462.3L185.2 464.7L186.6 467.1L188 469.5L189.5 472L191 474.6L192.6 477.2L194.2 479.8L195.8 482.4L197.5 485.1L199.2 487.8L200.9 490.6L202.7 493.4L204.5 496.2L206.4 499L208.3 501.9L210.2 504.8L212.1 507.7L214.1 510.6L216.1 513.6L218.2 516.5L220.2 519.5L222.3 522.4L224.5 525.4L226.6 528.3L228.8 531.3L231 534.2L233.3 537.2L235.6 540.1L237.9 543L240.2 545.8L242.6 548.7L245 551.5L247.4 554.3L249.8 557L252.3 559.7L254.8 562.4L257.3 565L259.9 567.6L262.5 570.1L265.1 572.6L267.7 575L270.4 577.4L273 579.7L275.7 581.9L278.5 584.1L281.2 586.2L284 588.3L286.8 590.2L289.6 592.1L292.4 594L295.3 595.7L298.1 597.4L301 599L303.9 600.6L306.8 602.1L309.8 603.5L312.7 604.8L315.7 606.1L318.6 607.3L321.6 608.5L324.6 609.6L327.6 610.6L330.6 611.6L333.7 612.5L336.7 613.4L339.7 614.2L342.8 615L345.9 615.8L348.9 616.5L352 617.2L355.1 617.8L358.2 618.4L361.3 619L364.4 619.6L367.5 620.2L370.6 620.7L373.8 621.2L376.9 621.7L380.1 622.2L383.2 622.7L386.4 623.2L389.5 623.7L392.7 624.2L395.9 624.7L399.1 625.2L402.3 625.7L405.5 626.3L408.7 626.8L411.9 627.4L415.1 627.9L418.3 628.5L421.5 629.1L424.8 629.7L428 630.3L431.2 631L434.5 631.7L437.7 632.4L441 633.1L444.3 633.8L447.6 634.6L450.9 635.3L454.2 636.1L457.5 636.9L460.9 637.8L464.2 638.6L467.6 639.5L470.9 640.4L474.3 641.3L477.7 642.3L481.1 643.2L484.6 644.2L488 645.2L491.5 646.2L494.9 647.2L498.4 648.3L501.9 649.3L505.5 650.4L509 651.4L512.5 652.5L516.1 653.6L519.6 654.7L523.2 655.7L526.8 656.8L530.4 657.8L534 658.9L537.6 659.9L541.3 660.9L544.9 661.9L548.6 662.9L552.2 663.9L555.9 664.8L559.6 665.7L563.3 666.5L567 667.3L570.7 668.1L574.4 668.8L578.2 669.5L581.9 670.1L585.7 670.7L589.4 671.2L593.2 671.7L597 672L600.8 672.4L604.5 672.6L608.3 672.8L612.1 673L615.9 673L619.7 673L623.6 672.9L627.4 672.8L631.2 672.5L635 672.2L638.8 671.8L642.6 671.3L646.4 670.8L650.2 670.2L654 669.5L657.8 668.8L661.5 667.9L665.3 667L669 666.1L672.8 665.1L676.5 664L680.2 662.9L683.9 661.7L687.6 660.4L691.3 659.1L694.9 657.8L698.6 656.4L702.2 655L705.8 653.5L709.4 652L713 650.5L716.6 648.9L720.1 647.3L723.6 645.7L727.1 644.1L730.6 642.4L734.1 640.8L737.6 639.1L741 637.4L744.4 635.8L747.8 634.1L751.1 632.4L754.5 630.8L757.8 629.1L761.1 627.4L764.4 625.8L767.6 624.2L770.8 622.6L774 621L777.2 619.4L780.3 617.9L783.4 616.3L786.5 614.8L789.6 613.3L792.6 611.9L795.6 610.4L798.6 609L801.5 607.6L804.5 606.2L807.4 604.9L810.2 603.6L813.1 602.3L815.9 601L818.7 599.8L821.5 598.5L824.2 597.3L826.9 596.2L829.6 595L832.3 593.9L835 592.8L837.6 591.7L840.3 590.6L842.9 589.5L845.4 588.5L848 587.5L850.6 586.4L853.1 585.4L855.6 584.4L858.1 583.4L860.6 582.4L863 581.5L865.5 580.5L867.9 579.5L870.3 578.5L872.7 577.5L875.1 576.5L877.4 575.5L879.7 574.5L882.1 573.4L884.4 572.3L886.7 571.2L888.9 570.1L891.2 568.9L893.5 567.7L895.7 566.5L897.9 565.2L900.1 563.9L902.3 562.6L904.5 561.1L906.6 559.7L908.8 558.2L910.9 556.6L913 555L915.1 553.3L917.2 551.5L919.2 549.7L921.3 547.8L923.3 545.9L925.3 543.9L927.3 541.8L929.2 539.6L931.2 537.4L933.1 535.1L935 532.8L936.9 530.4L938.8 527.9L940.6 525.3L942.5 522.7L944.3 520.1L946 517.4L947.8 514.6L949.5 511.8L951.2 508.9L952.9 506L954.5 503L956.2 500L957.8 496.9L959.3 493.9L960.9 490.7L962.4 487.6L963.9 484.4L965.3 481.2L966.8 478L968.2 474.8L969.5 471.6L970.9 468.3L972.2 465.1L973.5 461.8L974.7 458.5L975.9 455.3L977.1 452.1L978.3 448.8L979.4 445.6L980.5 442.4L981.5 439.3L982.5 436.1L983.5 433L984.5 429.9L985.4 426.8L986.2 423.8L987.1 420.8L987.9 417.8L988.6 414.9L989.3 412.1L990 409.2L990.6 406.4L991.2 403.7L991.7 401L992.2 398.4L992.7 395.8L993.1 393.2L993.5 390.7L993.8 388.2L994.1 385.8L994.3 383.4L994.5 381.1L994.7 378.8L994.8 376.6L994.9 374.4Z" fill="none" stroke="#15301a" stroke-width="1"/>
<g id="sf" clip-path="url(#oc)">
<rect x="140" y="40" width="870" height="640" fill="#ff3300"/>
<path d="M1017.7 378.6L1019.1 373.3L1020.2 368L1020.9 362.6L1020.9 357.3L1020 352L1018.1 346.7L1015.1 341.5L1011.1 336.5L1006 331.6L1000.2 326.9L993.7 322.4L986.8 318L979.8 313.8L972.8 309.8L966.1 305.8L959.8 301.8L954.1 297.9L948.9 294L944.3 290L940.2 285.9L936.7 281.8L933.7 277.5L931.1 273.1L929 268.6L927.4 263.9L926.2 259.1L925.6 254L925.3 248.7L925.6 243.1L926.2 237.2L927.1 231.1L928.2 224.8L929.3 218.3L930.3 211.7L930.8 205.1L930.8 198.6L930.1 192.3L928.5 186.3L925.9 180.7L922.5 175.5L918.2 170.7L913.1 166.4L907.5 162.3L901.5 158.6L895.3 155.1L889.1 151.6L883 148.1L877.1 144.4L871.4 140.7L866 136.7L860.8 132.6L855.6 128.5L850.3 124.4L844.7 120.5L838.8 117L832.4 113.8L825.4 111.3L817.9 109.3L809.9 108L801.4 107.4L792.5 107.4L783.4 107.9L774.2 108.8L765 109.9L756 111.2L747.2 112.3L738.7 113.4L730.6 114.1L722.8 114.6L715.3 114.7L708.1 114.5L701.2 113.9L694.5 113L688 111.7L681.6 110.1L675.3 108.1L669.2 105.8L663.1 103L657.1 99.9L651.1 96.3L645 92.3L638.9 88L632.7 83.3L626.3 78.5L619.8 73.7L613 69L605.9 64.6L598.7 60.7L591.2 57.4L583.6 54.7L575.9 52.9L568.1 51.8L560.3 51.4L552.5 51.7L544.7 52.4L537 53.4L529.4 54.5L521.8 55.6L514.2 56.6L506.6 57.3L498.9 57.8L491.2 58.1L483.3 58.3L475.5 58.6L467.6 59L459.9 59.8L452.2 61L444.9 62.9L437.9 65.5L431.2 68.8L425 72.8L419.3 77.5L414 82.6L409.1 88.2L404.6 93.9L400.3 99.7L396.1 105.3L392 110.8L387.9 115.9L383.6 120.7L379.2 125L374.7 129L369.9 132.6L364.8 135.8L359.6 138.6L354 141.2L348.2 143.5L342 145.4L335.5 147.1L328.6 148.4L321.3 149.5L313.5 150.3L305.2 150.9L296.6 151.3L287.6 151.6L278.4 152L269.2 152.5L260.1 153.3L251.3 154.5L242.9 156.2L235.3 158.4L228.3 161.1L222.2 164.4L216.9 168.2L212.3 172.4L208.3 176.9L204.7 181.7L201.4 186.5L198.1 191.4L194.7 196.2L191.1 200.9L187.2 205.4L182.9 209.9L178.4 214.3L173.9 218.8L169.4 223.3L165.2 227.9L161.6 232.8L158.8 238L156.9 243.4L156 249.1L156.1 255L157.3 261.1L159.4 267.3L162.2 273.6L165.6 279.8L169.2 286L173 292L176.6 297.9L179.9 303.6L182.7 309.1L185.1 314.4L186.9 319.5L188.2 324.5L189 329.3L189.2 334.1L188.9 338.8L188.2 343.4L186.9 348L185.1 352.6L182.8 357.2L179.9 361.9L176.4 366.6L172.4 371.4L168 376.3L163.2 381.3L158.2 386.4L153.3 391.7L148.7 397.1L144.6 402.6L141.2 408.1L138.8 413.6L137.3 419.2L137 424.6L137.8 430L139.5 435.2L142 440.3L145.1 445.3L148.5 450.3L152.1 455.1L155.5 460L158.7 465L161.6 470L164.2 475.2L166.5 480.4L168.6 485.8L170.8 491.2L173.3 496.5L176.2 501.7L179.8 506.7L184.2 511.5L189.5 515.8L195.7 519.8L202.7 523.3L210.5 526.4L218.9 529.1L227.7 531.4L236.6 533.5L245.6 535.5L254.3 537.3L262.7 539.2L270.7 541.1L278.2 543.2L285.1 545.5L291.6 547.9L297.7 550.5L303.3 553.4L308.5 556.5L313.4 559.8L318 563.3L322.3 567.1L326.2 571.2L329.9 575.6L333.3 580.3L336.5 585.4L339.4 590.8L342.3 596.5L345.2 602.4L348.2 608.4L351.5 614.4L355.2 620.2L359.3 625.7L363.9 630.8L369.2 635.3L375 639.3L381.4 642.5L388.3 645.2L395.5 647.3L403 648.9L410.7 650.3L418.4 651.5L426 652.7L433.6 654L441.1 655.6L448.4 657.4L455.7 659.4L462.9 661.7L470.2 664L477.5 666.2L484.9 668.1L492.6 669.7L500.3 670.6L508.2 670.9L516.2 670.5L524.2 669.2L532.3 667.3L540.2 664.7L548.1 661.7L555.7 658.3L563.2 654.8L570.5 651.2L577.6 647.8L584.6 644.6L591.3 641.7L598 639.2L604.6 637.1L611.2 635.4L617.8 634L624.3 633L631 632.3L637.7 631.9L644.5 631.9L651.4 632.2L658.6 632.8L665.9 633.8L673.5 635.2L681.4 636.9L689.5 638.8L698 641L706.6 643.2L715.4 645.3L724.3 647.1L733.2 648.6L742 649.5L750.5 649.8L758.8 649.4L766.6 648.3L774.1 646.5L781.1 644.1L787.7 641.2L794 638L800.2 634.5L806.2 631.1L812.3 627.7L818.5 624.6L824.8 621.6L831.4 618.9L838.2 616.4L845.1 614L851.9 611.5L858.6 608.8L865 605.8L870.9 602.5L876.2 598.6L880.7 594.2L884.3 589.3L887.2 583.9L889.3 578.1L890.7 572L891.5 565.8L892 559.5L892.3 553.2L892.5 547.1L892.9 541.2L893.5 535.5L894.5 530.2L895.9 525.1L897.6 520.4L899.8 515.8L902.5 511.5L905.5 507.4L909 503.4L912.9 499.6L917.2 495.9L922.1 492.4L927.5 488.9L933.5 485.6L940.1 482.4L947.1 479.1L954.6 475.9L962.4 472.6L970.2 469.1L978 465.5L985.4 461.7L992.2 457.6L998.3 453.2L1003.4 448.5L1007.5 443.6L1010.5 438.4L1012.6 433L1013.8 427.6L1014.3 422L1014.3 416.5L1014.2 410.9L1014.1 405.4L1014.2 400L1014.6 394.6L1015.3 389.2L1016.4 383.9Z" fill="#ffa500"/>
<path d="M1020.6 366.6L1016.7 361.1L1011.7 355.8L1005.9 350.6L999.5 345.5L992.7 340.6L985.6 335.9L978.4 331.3L971.3 327L964.3 322.7L957.6 318.6L951.1 314.6L945 310.7L939.2 306.9L933.7 303.2L928.5 299.5L923.6 295.8L919 292.1L914.8 288.5L911 284.8L907.5 281L904.4 277.2L901.7 273.4L899.4 269.4L897.4 265.3L895.9 261L894.7 256.6L893.8 252.1L893.2 247.4L892.8 242.5L892.7 237.4L892.8 232.2L893.1 226.7L893.5 221.1L894.2 215.3L894.9 209.2L895.8 203L896.8 196.5L897.7 189.8L898.6 183L899.3 176.1L899.8 169.2L899.8 162.3L899.2 155.5L898 149L896 142.8L893 137.1L889.1 132L884.3 127.5L878.4 123.7L871.6 120.6L864 118.3L855.7 116.6L846.8 115.7L837.5 115.3L827.9 115.4L818.2 115.8L808.4 116.6L798.8 117.6L789.3 118.7L780 119.8L771.1 120.9L762.4 122L754 122.9L745.9 123.7L738.1 124.4L730.6 125L723.3 125.4L716.2 125.6L709.4 125.7L702.8 125.5L696.3 125.1L690.1 124.5L684 123.6L678 122.4L672.2 121L666.5 119.2L660.9 117.1L655.3 114.8L649.8 112.2L644.2 109.3L638.6 106.2L632.9 102.8L627.2 99.2L621.4 95.4L615.4 91.4L609.3 87.1L603.1 82.6L596.6 78L590 73.1L583.2 68.2L576.1 63.3L568.8 58.5L561.3 53.9L553.5 49.6L545.6 45.8L537.6 42.6L529.5 40.2L521.4 38.6L513.4 38L505.5 38.3L497.8 39.6L490.4 41.9L483.4 45L476.7 49L470.3 53.6L464.4 58.7L458.8 64.3L453.5 70L448.5 76L443.7 81.9L439.2 87.8L434.8 93.5L430.5 99L426.3 104.3L422.2 109.4L418.1 114.3L414 118.9L409.9 123.3L405.8 127.4L401.6 131.3L397.4 135L393.1 138.4L388.6 141.5L384 144.4L379.2 147L374.1 149.3L368.8 151.4L363.3 153.2L357.5 154.8L351.4 156.2L345 157.4L338.3 158.5L331.4 159.4L324.2 160.2L316.7 161L308.8 161.6L300.7 162.1L292.2 162.6L283.4 163.1L274.3 163.6L264.9 164.1L255.3 164.7L245.7 165.4L236 166.4L226.5 167.7L217.4 169.3L208.8 171.4L200.9 174L193.9 177.1L187.8 180.8L182.9 185.1L179.2 189.9L176.8 195.2L175.5 200.9L175.3 207L176.2 213.4L177.9 219.9L180.4 226.6L183.4 233.2L186.7 239.8L190.3 246.3L194 252.7L197.6 258.9L201.1 264.9L204.5 270.8L207.6 276.4L210.5 281.9L213.2 287.2L215.6 292.4L217.8 297.4L219.6 302.2L221.2 307L222.5 311.6L223.4 316.1L224 320.5L224.1 324.9L223.9 329.1L223.2 333.4L222.1 337.5L220.6 341.7L218.7 345.9L216.5 350.1L213.9 354.4L211.1 358.7L207.9 363.1L204.4 367.6L200.7 372.1L196.6 376.8L192.4 381.7L187.8 386.7L183.1 391.8L178.2 397.1L173.2 402.6L168.3 408.2L163.6 414L159.2 419.9L155.4 425.9L152.3 431.9L150.1 437.9L148.9 443.8L148.9 449.6L150.2 455.1L152.8 460.3L156.7 465.2L161.8 469.8L168 474L175.2 477.8L183.2 481.2L191.9 484.3L200.9 487.1L210.1 489.7L219.5 492L228.7 494.2L237.8 496.3L246.7 498.3L255.2 500.3L263.4 502.3L271.3 504.3L278.8 506.3L286.1 508.3L293 510.4L299.6 512.5L305.9 514.7L311.9 516.9L317.5 519.3L322.9 521.8L328 524.4L332.7 527.2L337.2 530.2L341.4 533.4L345.3 536.8L349 540.4L352.6 544.3L356 548.3L359.2 552.5L362.4 556.9L365.5 561.6L368.6 566.4L371.6 571.5L374.6 576.8L377.6 582.3L380.6 588L383.8 594L387 600.1L390.4 606.3L394.1 612.6L398.1 618.8L402.4 624.8L407.2 630.6L412.4 635.8L418.2 640.5L424.5 644.5L431.2 647.7L438.5 650.1L446.2 651.5L454.2 652L462.5 651.7L471 650.5L479.6 648.7L488.2 646.2L496.7 643.3L505.1 640.1L513.3 636.6L521.3 633L529.1 629.4L536.6 625.9L543.9 622.5L551 619.3L557.9 616.2L564.6 613.4L571.2 610.7L577.6 608.2L583.9 605.9L590 603.9L596.1 602L602.2 600.3L608.2 598.9L614.1 597.8L620.1 596.9L626.2 596.2L632.3 595.9L638.4 595.8L644.8 596L651.2 596.4L657.8 597L664.5 597.8L671.4 598.8L678.6 600L685.9 601.3L693.5 602.8L701.3 604.5L709.4 606.3L717.7 608.2L726.3 610.3L735.2 612.4L744.3 614.5L753.7 616.6L763.1 618.4L772.6 620.1L782.1 621.3L791.4 622L800.4 622.2L808.9 621.6L816.9 620.3L824.3 618.2L830.8 615.3L836.6 611.6L841.6 607.1L845.7 602L849 596.4L851.6 590.3L853.6 583.9L855.1 577.4L856.1 570.7L856.9 564L857.5 557.5L857.9 551.1L858.4 544.9L858.8 538.9L859.4 533.1L860 527.6L860.7 522.3L861.6 517.1L862.6 512.2L863.8 507.5L865.2 502.9L866.8 498.5L868.7 494.3L870.8 490.2L873.2 486.3L876 482.6L879.2 478.9L882.7 475.5L886.6 472.1L890.8 468.8L895.4 465.5L900.4 462.3L905.7 459.2L911.3 456L917.3 452.8L923.5 449.6L930.1 446.4L937 443.1L944.3 439.8L951.8 436.4L959.7 432.9L967.6 429.3L975.7 425.6L983.8 421.7L991.6 417.6L999 413.3L1005.9 408.8L1012 404L1017.1 399.1L1021 393.9L1023.7 388.6L1025 383.2L1024.9 377.7L1023.4 372.1Z" fill="#e6ff00"/>
<path d="M954.3 352.2L952.2 347.6L949.5 343.1L946.2 338.6L942.4 334.2L938.2 330L933.6 325.8L928.9 321.8L924 317.9L919 314.1L914.1 310.4L909.2 306.8L904.4 303.3L899.9 299.8L895.5 296.4L891.4 293L887.5 289.7L883.9 286.3L880.6 283L877.5 279.6L874.7 276.2L872.1 272.7L869.8 269.2L867.8 265.6L865.9 261.9L864.3 258.1L863 254.2L861.8 250.2L860.9 246.1L860.2 241.9L859.6 237.5L859.2 232.9L859 228.3L858.9 223.4L858.9 218.5L858.9 213.4L858.9 208.2L858.8 202.9L858.6 197.5L858.3 192.1L857.6 186.7L856.7 181.4L855.4 176.2L853.6 171.1L851.4 166.2L848.6 161.6L845.3 157.3L841.5 153.3L837.1 149.6L832.2 146.4L826.7 143.6L820.8 141.2L814.5 139.2L807.7 137.6L800.7 136.4L793.5 135.6L786.1 135.1L778.6 134.8L771 134.8L763.5 134.9L756 135.2L748.7 135.6L741.4 135.9L734.4 136.3L727.5 136.7L720.8 136.9L714.3 137.1L708 137.2L701.9 137.1L695.9 136.8L690.1 136.4L684.5 135.9L678.9 135.1L673.5 134.2L668.2 133.1L662.9 131.8L657.8 130.3L652.6 128.6L647.5 126.7L642.4 124.6L637.3 122.4L632.2 119.9L627.1 117.2L621.9 114.3L616.6 111.3L611.2 108.2L605.7 104.9L600.1 101.5L594.3 98.1L588.4 94.7L582.4 91.3L576.2 88.1L569.8 85L563.3 82.2L556.7 79.7L550 77.6L543.3 75.9L536.5 74.7L529.7 73.9L523 73.8L516.3 74.1L509.8 75.1L503.4 76.5L497.2 78.5L491.2 81L485.5 83.9L479.9 87.2L474.6 90.8L469.6 94.7L464.7 98.8L460.1 103L455.6 107.3L451.4 111.6L447.2 115.8L443.2 120L439.2 124.1L435.3 128L431.4 131.8L427.5 135.4L423.6 138.8L419.7 142L415.7 145L411.6 147.9L407.4 150.5L403.1 152.9L398.7 155.2L394.1 157.3L389.4 159.2L384.5 161L379.5 162.6L374.3 164.1L368.8 165.4L363.2 166.6L357.3 167.7L351.2 168.7L344.8 169.6L338.3 170.5L331.5 171.3L324.6 172.1L317.5 173L310.3 173.9L303.1 175L295.8 176.2L288.7 177.5L281.6 179.1L274.8 180.9L268.4 183.1L262.3 185.5L256.6 188.2L251.6 191.3L247 194.7L243.2 198.5L240 202.5L237.4 206.8L235.6 211.4L234.4 216.2L233.8 221.2L233.8 226.3L234.4 231.5L235.4 236.8L236.7 242.1L238.4 247.4L240.3 252.6L242.3 257.8L244.4 262.9L246.5 267.9L248.6 272.8L250.5 277.6L252.3 282.2L254 286.7L255.4 291.1L256.6 295.4L257.5 299.6L258.3 303.7L258.7 307.8L258.9 311.7L258.9 315.6L258.6 319.5L258.1 323.3L257.3 327L256.2 330.8L254.9 334.6L253.3 338.4L251.5 342.2L249.4 346L247 349.9L244.5 353.9L241.7 358L238.8 362.1L235.8 366.3L232.6 370.6L229.5 375.1L226.4 379.6L223.4 384.2L220.7 388.9L218.2 393.7L216.1 398.5L214.5 403.4L213.3 408.2L212.8 413.1L213 417.9L213.8 422.5L215.4 427.1L217.7 431.5L220.6 435.8L224.3 439.8L228.7 443.7L233.6 447.3L239.1 450.7L244.9 453.9L251.2 456.9L257.7 459.7L264.5 462.3L271.3 464.7L278.2 467.1L285.1 469.3L291.8 471.4L298.4 473.5L304.9 475.6L311.1 477.6L317.1 479.7L322.9 481.7L328.4 483.9L333.7 486L338.8 488.3L343.6 490.6L348.2 493L352.6 495.5L356.8 498.1L360.8 500.8L364.7 503.6L368.4 506.5L372 509.6L375.4 512.8L378.7 516.2L381.9 519.7L385.1 523.4L388.1 527.2L391.2 531.2L394.2 535.3L397.2 539.6L400.3 544L403.5 548.5L406.8 553L410.3 557.6L414 562.1L417.9 566.5L422.1 570.8L426.5 574.9L431.3 578.7L436.3 582.2L441.7 585.4L447.4 588.1L453.4 590.4L459.6 592.2L466.1 593.5L472.7 594.3L479.6 594.7L486.5 594.5L493.5 593.9L500.5 593L507.6 591.6L514.5 590L521.4 588.2L528.2 586.1L534.8 584L541.4 581.7L547.7 579.5L554 577.2L560.1 575L566 572.9L571.8 571L577.6 569.2L583.2 567.5L588.8 566L594.2 564.6L599.7 563.4L605.1 562.4L610.5 561.5L615.9 560.9L621.4 560.3L626.9 560L632.4 559.7L638 559.7L643.8 559.8L649.6 560L655.5 560.4L661.6 561L667.8 561.7L674.2 562.5L680.8 563.4L687.5 564.4L694.4 565.5L701.5 566.6L708.7 567.7L716 568.7L723.4 569.6L730.9 570.4L738.4 570.9L745.8 571.2L753.1 571.2L760.3 570.8L767.3 570.1L774 568.9L780.3 567.3L786.3 565.3L791.9 562.8L797 559.9L801.6 556.5L805.8 552.8L809.5 548.8L812.7 544.5L815.5 539.9L817.9 535.2L820 530.3L821.8 525.4L823.3 520.4L824.6 515.4L825.8 510.5L826.9 505.7L827.9 501L829 496.4L830.1 491.9L831.4 487.6L832.7 483.4L834.2 479.4L835.8 475.5L837.6 471.7L839.6 468.1L841.7 464.6L844.1 461.1L846.7 457.8L849.5 454.5L852.6 451.3L855.8 448.2L859.4 445.1L863.1 442.1L867.2 439L871.5 436.1L876 433.1L880.9 430.1L885.9 427L891.2 424L896.7 420.9L902.3 417.7L908 414.5L913.7 411.2L919.5 407.7L925 404.1L930.4 400.4L935.5 396.6L940.2 392.6L944.5 388.5L948.2 384.2L951.3 379.9L953.7 375.4L955.3 370.8L956.2 366.2L956.3 361.6L955.7 356.9Z" fill="#73ff00"/>
<path d="M900.8 338.3L899.6 334.4L898 330.5L896 326.6L893.7 322.9L891.1 319.2L888.3 315.5L885.3 312L882.2 308.5L878.9 305.1L875.6 301.7L872.4 298.5L869.1 295.2L865.9 292L862.8 288.9L859.8 285.8L856.9 282.7L854.2 279.6L851.6 276.5L849.2 273.3L846.9 270.2L844.7 267L842.7 263.8L840.9 260.5L839.2 257.2L837.6 253.8L836.1 250.4L834.8 246.8L833.6 243.2L832.5 239.5L831.5 235.7L830.5 231.9L829.7 227.9L828.8 223.9L828 219.8L827.2 215.6L826.3 211.4L825.3 207.1L824.2 202.9L822.9 198.6L821.5 194.4L819.8 190.2L817.9 186.1L815.6 182.1L813.1 178.3L810.3 174.6L807.1 171.1L803.5 167.9L799.6 164.8L795.4 162.1L790.9 159.5L786.1 157.3L781 155.3L775.6 153.6L770.1 152.1L764.4 150.9L758.6 149.9L752.7 149.1L746.8 148.4L740.8 147.9L734.8 147.4L728.9 147.1L723 146.8L717.2 146.6L711.5 146.3L705.9 146.1L700.4 145.8L695.1 145.4L689.8 145L684.6 144.4L679.5 143.8L674.5 143.1L669.5 142.3L664.6 141.4L659.8 140.3L655.1 139.2L650.3 137.9L645.6 136.5L640.9 135L636.3 133.3L631.6 131.6L626.8 129.7L622.1 127.7L617.3 125.7L612.5 123.5L607.6 121.3L602.6 119L597.5 116.8L592.3 114.5L587.1 112.3L581.7 110.1L576.3 108.1L570.8 106.2L565.2 104.5L559.5 103L553.8 101.8L548 100.8L542.2 100.1L536.5 99.8L530.7 99.8L525 100.2L519.4 100.9L513.9 102L508.5 103.4L503.2 105.1L498.1 107L493.1 109.3L488.2 111.8L483.5 114.4L479 117.2L474.6 120.1L470.3 123.2L466.1 126.2L462 129.3L458.1 132.3L454.1 135.4L450.3 138.3L446.5 141.2L442.7 144L438.9 146.7L435 149.2L431.2 151.7L427.3 154.1L423.4 156.3L419.4 158.4L415.4 160.4L411.2 162.3L407 164.1L402.7 165.8L398.3 167.4L393.7 168.9L389.1 170.3L384.3 171.7L379.4 173L374.4 174.2L369.2 175.5L364 176.7L358.7 177.9L353.2 179.1L347.8 180.4L342.3 181.7L336.8 183.2L331.3 184.7L326 186.4L320.7 188.3L315.7 190.3L310.8 192.5L306.2 194.9L301.9 197.5L298 200.3L294.4 203.4L291.2 206.6L288.4 210.1L286.1 213.7L284.1 217.5L282.6 221.4L281.5 225.5L280.7 229.7L280.3 233.9L280.2 238.2L280.3 242.5L280.7 246.9L281.2 251.2L281.9 255.5L282.7 259.7L283.6 264L284.4 268.1L285.3 272.2L286.1 276.2L286.8 280.1L287.4 284L288 287.8L288.4 291.5L288.6 295.2L288.8 298.8L288.8 302.4L288.6 305.9L288.3 309.4L287.8 312.9L287.2 316.3L286.5 319.7L285.6 323.2L284.5 326.6L283.3 330L282 333.5L280.6 337L279 340.5L277.4 344L275.7 347.7L274 351.3L272.3 355.1L270.6 358.8L269 362.7L267.6 366.6L266.3 370.5L265.2 374.5L264.4 378.5L263.9 382.6L263.8 386.6L264.1 390.6L264.7 394.6L265.8 398.5L267.4 402.4L269.4 406.1L271.8 409.8L274.6 413.4L277.9 416.8L281.5 420.1L285.5 423.3L289.8 426.4L294.3 429.3L299.1 432.1L303.9 434.7L308.9 437.3L314 439.8L319.1 442.2L324.2 444.5L329.2 446.8L334.2 449L339 451.2L343.8 453.4L348.5 455.6L353 457.8L357.4 460L361.6 462.2L365.7 464.4L369.7 466.7L373.6 469.1L377.4 471.5L381 473.9L384.6 476.4L388.1 479L391.5 481.6L394.8 484.3L398 487.1L401.3 490L404.4 492.9L407.6 496L410.8 499.1L414 502.3L417.2 505.5L420.5 508.8L423.9 512L427.3 515.3L430.9 518.6L434.7 521.8L438.6 525L442.6 528L446.9 530.9L451.4 533.6L456 536.1L460.9 538.4L465.9 540.4L471.1 542.2L476.5 543.7L482 544.8L487.6 545.7L493.4 546.3L499.2 546.6L505.1 546.6L510.9 546.4L516.8 545.9L522.7 545.2L528.5 544.4L534.3 543.4L540 542.3L545.6 541.2L551.2 540L556.6 538.7L562 537.5L567.3 536.3L572.5 535.1L577.6 534L582.7 533L587.7 532L592.7 531.1L597.7 530.3L602.6 529.6L607.5 528.9L612.4 528.4L617.4 527.9L622.4 527.5L627.4 527.3L632.4 527.1L637.5 526.9L642.7 526.9L647.9 526.9L653.3 527L658.7 527.2L664.2 527.4L669.8 527.6L675.5 527.9L681.3 528.1L687.1 528.4L693.1 528.6L699.1 528.7L705.1 528.8L711.1 528.7L717.2 528.4L723.1 528L729 527.4L734.8 526.6L740.4 525.5L745.9 524.1L751.1 522.5L756.1 520.6L760.9 518.5L765.4 516.1L769.6 513.5L773.5 510.6L777.1 507.5L780.4 504.2L783.4 500.8L786.2 497.3L788.7 493.7L791 489.9L793.2 486.2L795.1 482.4L797 478.7L798.8 474.9L800.5 471.3L802.1 467.6L803.8 464L805.5 460.5L807.2 457.1L809 453.7L810.9 450.5L812.9 447.2L814.9 444.1L817.1 441L819.4 437.9L821.8 434.9L824.3 431.9L827 429L829.8 426.1L832.8 423.2L835.9 420.3L839.1 417.5L842.5 414.6L846 411.7L849.7 408.8L853.4 405.9L857.3 402.9L861.2 399.9L865.2 396.8L869.2 393.7L873.2 390.5L877.1 387.2L880.8 383.9L884.4 380.4L887.8 376.9L890.9 373.3L893.7 369.6L896.1 365.8L898.2 362L899.8 358.1L900.9 354.2L901.6 350.2L901.8 346.2L901.5 342.3Z" fill="#00ff00"/>
<path d="M851.8 324.5L851.2 321.2L850.3 317.9L849.2 314.7L847.8 311.4L846.3 308.3L844.7 305.1L842.9 302.1L841 299L839 296L837 293.1L834.9 290.2L832.9 287.3L830.8 284.4L828.8 281.6L826.8 278.8L824.8 275.9L822.9 273.1L821 270.3L819.2 267.5L817.4 264.6L815.7 261.7L814 258.8L812.4 255.9L810.8 253L809.2 250L807.7 247L806.2 243.9L804.8 240.8L803.4 237.7L802 234.5L800.6 231.3L799.2 228L797.9 224.7L796.5 221.4L795.1 218L793.6 214.6L792.1 211.3L790.4 207.9L788.7 204.5L786.9 201.2L784.9 197.9L782.7 194.6L780.4 191.5L777.8 188.4L775.1 185.5L772.1 182.7L769 180L765.6 177.5L762.1 175.2L758.3 173L754.4 171L750.2 169.1L746 167.4L741.6 165.9L737.1 164.6L732.5 163.3L727.9 162.2L723.2 161.2L718.5 160.3L713.8 159.5L709.1 158.7L704.4 158L699.7 157.3L695.1 156.6L690.5 156L686 155.3L681.5 154.6L677 153.9L672.6 153.1L668.2 152.3L663.9 151.5L659.5 150.6L655.2 149.7L651 148.8L646.7 147.8L642.5 146.7L638.2 145.6L634 144.4L629.7 143.2L625.5 141.9L621.2 140.6L616.9 139.3L612.6 137.9L608.2 136.5L603.8 135.1L599.4 133.6L594.9 132.2L590.4 130.8L585.8 129.4L581.1 128.1L576.4 126.9L571.7 125.8L566.9 124.8L562.1 123.9L557.2 123.2L552.4 122.7L547.5 122.4L542.6 122.3L537.8 122.4L533 122.8L528.2 123.3L523.5 124.1L518.9 125.1L514.3 126.3L509.8 127.6L505.4 129.2L501.1 130.9L496.9 132.7L492.7 134.6L488.7 136.6L484.7 138.7L480.8 140.8L477 142.9L473.2 145.1L469.5 147.2L465.8 149.3L462.1 151.4L458.5 153.5L454.8 155.5L451.2 157.5L447.6 159.4L444 161.3L440.3 163.2L436.7 164.9L433 166.7L429.3 168.4L425.6 170L421.9 171.6L418.1 173.2L414.3 174.7L410.4 176.2L406.5 177.6L402.5 179.1L398.5 180.5L394.5 181.9L390.4 183.4L386.3 184.8L382.2 186.3L378 187.8L373.9 189.3L369.7 190.9L365.7 192.6L361.7 194.4L357.7 196.3L353.9 198.3L350.3 200.4L346.8 202.6L343.5 205L340.4 207.5L337.5 210.2L334.9 212.9L332.5 215.9L330.4 218.9L328.5 222L326.9 225.3L325.5 228.6L324.4 232L323.5 235.4L322.7 238.9L322.2 242.4L321.8 246L321.5 249.5L321.3 253.1L321.2 256.6L321.1 260.1L321.1 263.6L321.1 267L321.1 270.4L321.1 273.8L321 277.1L321 280.4L320.9 283.7L320.7 286.9L320.6 290.1L320.3 293.3L320.1 296.4L319.7 299.5L319.4 302.6L319 305.7L318.5 308.7L318 311.7L317.5 314.8L316.9 317.8L316.3 320.9L315.6 323.9L314.9 327L314.2 330.1L313.5 333.2L312.8 336.3L312.1 339.5L311.5 342.7L310.9 345.9L310.5 349.1L310.2 352.4L310 355.7L309.9 359L310.1 362.3L310.5 365.7L311.2 369L312.1 372.3L313.2 375.5L314.7 378.8L316.4 382L318.4 385.1L320.6 388.2L323.1 391.2L325.8 394.1L328.7 397L331.9 399.8L335.2 402.5L338.6 405.1L342.1 407.7L345.7 410.2L349.4 412.7L353.1 415.1L356.8 417.4L360.6 419.7L364.3 422L367.9 424.3L371.6 426.5L375.2 428.7L378.8 430.9L382.3 433.1L385.7 435.3L389.1 437.5L392.5 439.6L395.8 441.8L399.1 444L402.4 446.1L405.6 448.3L408.9 450.5L412.1 452.7L415.2 454.9L418.4 457.2L421.5 459.4L424.7 461.7L427.9 464L431.1 466.3L434.3 468.6L437.5 471L440.8 473.3L444.1 475.7L447.5 478L451 480.3L454.6 482.6L458.3 484.8L462.1 486.9L466 489L470 490.9L474.2 492.7L478.4 494.4L482.8 495.9L487.3 497.3L491.8 498.5L496.5 499.5L501.3 500.3L506.1 501L510.9 501.5L515.8 501.8L520.7 502L525.6 502.1L530.5 502L535.4 501.8L540.2 501.5L545.1 501.2L549.8 500.8L554.6 500.3L559.3 499.8L563.9 499.3L568.5 498.8L573.1 498.3L577.6 497.8L582.1 497.3L586.6 496.9L591 496.4L595.5 495.9L599.9 495.5L604.3 495.1L608.7 494.7L613.1 494.3L617.5 493.9L622 493.6L626.4 493.2L630.9 492.9L635.4 492.6L639.9 492.3L644.5 492L649.1 491.7L653.8 491.4L658.5 491.1L663.2 490.8L668 490.4L672.8 490.1L677.6 489.7L682.5 489.3L687.3 488.8L692.2 488.2L697 487.5L701.8 486.7L706.6 485.8L711.2 484.7L715.8 483.5L720.3 482.1L724.6 480.6L728.8 479L732.8 477.2L736.7 475.2L740.3 473.1L743.8 470.8L747.2 468.5L750.3 466L753.3 463.4L756.1 460.7L758.7 458L761.3 455.3L763.7 452.5L766 449.7L768.2 446.8L770.3 444L772.4 441.2L774.5 438.4L776.5 435.6L778.5 432.9L780.6 430.1L782.6 427.4L784.7 424.7L786.7 422L788.8 419.4L791 416.7L793.1 414L795.3 411.4L797.6 408.7L799.9 406.1L802.2 403.4L804.6 400.7L807 398.1L809.5 395.4L812 392.6L814.6 389.9L817.2 387.2L819.8 384.4L822.5 381.6L825.2 378.7L827.9 375.8L830.6 372.9L833.2 370L835.8 366.9L838.2 363.9L840.6 360.8L842.8 357.6L844.8 354.5L846.6 351.2L848.2 347.9L849.6 344.6L850.7 341.3L851.5 338L852 334.6L852.2 331.2L852.1 327.9Z" fill="#00ff73"/>
<path d="M806.6 311.7L806.4 308.9L806.2 306.1L805.9 303.3L805.4 300.5L804.9 297.8L804.2 295L803.5 292.3L802.7 289.6L801.8 286.9L800.9 284.2L799.9 281.5L798.8 278.9L797.7 276.2L796.6 273.6L795.4 271L794.1 268.4L792.9 265.8L791.6 263.2L790.3 260.6L788.9 258L787.5 255.4L786.1 252.8L784.7 250.2L783.3 247.7L781.8 245.1L780.3 242.5L778.7 239.9L777.2 237.4L775.6 234.8L773.9 232.2L772.2 229.6L770.5 227.1L768.8 224.5L767 222L765.1 219.4L763.2 216.9L761.2 214.4L759.1 211.9L757 209.4L754.8 207L752.5 204.6L750.2 202.3L747.7 199.9L745.2 197.7L742.6 195.5L739.9 193.3L737.1 191.2L734.2 189.2L731.2 187.2L728.2 185.3L725.1 183.5L721.9 181.7L718.6 180L715.3 178.4L711.9 176.9L708.4 175.4L704.9 173.9L701.4 172.6L697.8 171.3L694.2 170L690.6 168.8L687 167.6L683.3 166.5L679.6 165.4L675.9 164.3L672.2 163.3L668.5 162.3L664.8 161.3L661.1 160.3L657.4 159.4L653.6 158.4L649.9 157.5L646.1 156.6L642.4 155.7L638.6 154.9L634.9 154L631.1 153.2L627.3 152.3L623.5 151.5L619.7 150.7L615.8 149.9L612 149.2L608.1 148.4L604.2 147.7L600.3 147L596.4 146.4L592.5 145.8L588.5 145.2L584.6 144.7L580.6 144.2L576.6 143.8L572.6 143.5L568.5 143.2L564.5 143L560.5 142.9L556.4 142.9L552.4 142.9L548.4 143L544.3 143.3L540.3 143.6L536.3 144L532.4 144.5L528.4 145.1L524.5 145.7L520.7 146.5L516.8 147.3L513 148.2L509.2 149.2L505.5 150.2L501.8 151.3L498.1 152.4L494.5 153.6L490.9 154.8L487.4 156.1L483.9 157.4L480.4 158.7L476.9 160.1L473.5 161.5L470.1 162.9L466.8 164.3L463.4 165.7L460.1 167.2L456.8 168.6L453.5 170.1L450.2 171.5L447 173L443.7 174.5L440.5 176L437.3 177.6L434.1 179.1L430.9 180.6L427.7 182.2L424.6 183.8L421.5 185.4L418.4 187L415.3 188.7L412.2 190.4L409.2 192.1L406.2 193.9L403.3 195.7L400.4 197.5L397.5 199.4L394.7 201.3L392 203.3L389.3 205.3L386.8 207.4L384.3 209.6L381.9 211.8L379.6 214L377.3 216.3L375.2 218.7L373.2 221.1L371.3 223.6L369.5 226.1L367.9 228.6L366.3 231.2L364.8 233.9L363.4 236.5L362.2 239.2L361 241.9L359.9 244.6L358.9 247.3L358 250.1L357.1 252.9L356.3 255.6L355.6 258.4L354.9 261.2L354.3 263.9L353.7 266.7L353.1 269.5L352.6 272.2L352.2 275L351.7 277.7L351.3 280.5L351 283.2L350.6 285.9L350.3 288.7L350 291.4L349.8 294.1L349.5 296.8L349.4 299.6L349.2 302.3L349 305L348.9 307.7L348.9 310.4L348.9 313.2L348.9 315.9L349 318.6L349.1 321.4L349.3 324.1L349.6 326.9L349.9 329.6L350.3 332.4L350.8 335.1L351.4 337.9L352 340.6L352.8 343.4L353.7 346.1L354.7 348.8L355.8 351.5L357 354.2L358.4 356.9L359.8 359.6L361.4 362.2L363 364.8L364.8 367.4L366.7 369.9L368.7 372.4L370.8 374.9L372.9 377.4L375.2 379.8L377.5 382.1L379.9 384.5L382.3 386.8L384.8 389.1L387.4 391.3L390 393.5L392.6 395.7L395.3 397.8L398 400L400.7 402L403.4 404.1L406.2 406.2L409 408.2L411.8 410.2L414.6 412.2L417.5 414.1L420.3 416.1L423.2 418L426.1 419.9L429.1 421.7L432 423.6L435 425.4L438 427.3L441 429.1L444 430.9L447.1 432.6L450.2 434.4L453.4 436.1L456.6 437.8L459.8 439.4L463.1 441L466.4 442.6L469.7 444.2L473.1 445.7L476.6 447.1L480.1 448.6L483.7 449.9L487.3 451.2L490.9 452.4L494.7 453.6L498.4 454.7L502.2 455.7L506 456.7L509.9 457.5L513.8 458.3L517.8 459.1L521.7 459.7L525.7 460.3L529.7 460.8L533.7 461.2L537.7 461.6L541.7 461.9L545.8 462.1L549.8 462.3L553.8 462.5L557.8 462.5L561.8 462.6L565.8 462.6L569.8 462.5L573.7 462.5L577.7 462.3L581.6 462.2L585.6 462L589.5 461.8L593.4 461.6L597.3 461.3L601.2 461.1L605.1 460.8L609 460.4L612.9 460.1L616.8 459.7L620.7 459.3L624.6 458.9L628.4 458.4L632.3 457.9L636.2 457.4L640.1 456.9L644 456.3L647.8 455.7L651.7 455L655.6 454.3L659.4 453.6L663.3 452.8L667.1 452L670.9 451.1L674.7 450.2L678.4 449.2L682.2 448.1L685.9 447L689.5 445.8L693.1 444.6L696.6 443.3L700.1 441.9L703.5 440.4L706.9 438.9L710.1 437.3L713.4 435.7L716.5 434L719.5 432.2L722.5 430.4L725.4 428.5L728.2 426.6L731 424.6L733.7 422.6L736.3 420.6L738.8 418.5L741.3 416.4L743.8 414.2L746.1 412.1L748.5 409.9L750.7 407.7L753 405.5L755.2 403.3L757.3 401.1L759.5 398.8L761.6 396.5L763.6 394.3L765.7 392L767.7 389.6L769.7 387.3L771.7 385L773.6 382.6L775.5 380.2L777.4 377.9L779.3 375.4L781.1 373L782.9 370.6L784.7 368.1L786.5 365.6L788.2 363.1L789.9 360.6L791.5 358L793.1 355.4L794.6 352.8L796.1 350.2L797.5 347.6L798.8 344.9L800 342.2L801.2 339.5L802.2 336.8L803.1 334L804 331.2L804.7 328.5L805.3 325.7L805.8 322.9L806.2 320.1L806.4 317.3L806.5 314.5Z" fill="#00ffe6"/>
<path d="M766.5 298.4L766.5 296.1L766.4 293.7L766.2 291.4L766 289.1L765.7 286.8L765.3 284.5L764.9 282.3L764.4 280L763.9 277.7L763.3 275.5L762.7 273.2L762 270.9L761.3 268.7L760.5 266.5L759.7 264.2L758.9 262L758 259.8L757 257.6L756.1 255.4L755 253.2L753.9 251L752.8 248.8L751.6 246.6L750.4 244.5L749.1 242.3L747.7 240.2L746.3 238.1L744.9 236L743.4 233.9L741.9 231.8L740.3 229.7L738.7 227.6L737 225.6L735.3 223.6L733.6 221.5L731.8 219.5L730 217.5L728.2 215.6L726.3 213.6L724.3 211.7L722.3 209.8L720.3 207.9L718.2 206L716 204.2L713.8 202.4L711.5 200.7L709.2 199L706.8 197.3L704.3 195.7L701.8 194.1L699.3 192.6L696.7 191.1L694 189.7L691.3 188.3L688.6 186.9L685.8 185.6L683 184.3L680.2 183.1L677.3 181.8L674.4 180.7L671.5 179.5L668.6 178.4L665.7 177.3L662.7 176.3L659.7 175.2L656.7 174.2L653.7 173.2L650.7 172.3L647.6 171.4L644.5 170.5L641.4 169.6L638.3 168.8L635.2 168L632 167.3L628.9 166.5L625.7 165.8L622.5 165.2L619.3 164.6L616.1 164L612.9 163.4L609.6 162.9L606.4 162.4L603.1 161.9L599.8 161.5L596.6 161.1L593.3 160.7L590 160.4L586.7 160L583.4 159.8L580.1 159.5L576.7 159.3L573.4 159.2L570.1 159L566.8 159L563.4 159L560.1 159L556.8 159.1L553.5 159.2L550.1 159.4L546.8 159.7L543.5 160L540.3 160.4L537 160.8L533.8 161.3L530.5 161.9L527.3 162.5L524.2 163.1L521 163.8L517.9 164.6L514.7 165.3L511.6 166.1L508.6 167L505.5 167.9L502.5 168.8L499.5 169.7L496.5 170.7L493.5 171.6L490.6 172.6L487.6 173.7L484.7 174.8L481.9 175.9L479 177L476.2 178.1L473.4 179.3L470.6 180.5L467.9 181.8L465.2 183.1L462.5 184.4L459.9 185.7L457.3 187.1L454.7 188.4L452.1 189.9L449.6 191.3L447.1 192.7L444.7 194.2L442.3 195.7L439.9 197.3L437.5 198.8L435.2 200.4L432.9 202L430.6 203.6L428.4 205.3L426.2 207L424.1 208.7L422 210.5L419.9 212.2L417.9 214.1L416 215.9L414.1 217.8L412.4 219.7L410.6 221.7L409 223.7L407.4 225.7L405.9 227.7L404.4 229.8L403.1 231.9L401.8 234L400.5 236.2L399.3 238.4L398.2 240.5L397.2 242.7L396.2 245L395.2 247.2L394.3 249.4L393.4 251.6L392.6 253.9L391.8 256.1L391.1 258.4L390.4 260.7L389.8 262.9L389.2 265.2L388.6 267.5L388.1 269.8L387.7 272L387.3 274.3L387 276.6L386.7 278.9L386.5 281.2L386.3 283.5L386.2 285.8L386.1 288.1L386.1 290.4L386.2 292.7L386.3 295L386.4 297.2L386.6 299.5L386.8 301.8L387.1 304.1L387.4 306.4L387.8 308.7L388.2 310.9L388.7 313.2L389.2 315.5L389.8 317.8L390.4 320L391.1 322.3L391.8 324.5L392.7 326.8L393.6 329L394.5 331.3L395.6 333.5L396.7 335.7L397.9 337.9L399.2 340.1L400.5 342.2L401.9 344.3L403.4 346.5L405 348.6L406.6 350.6L408.3 352.7L410 354.7L411.8 356.7L413.6 358.7L415.5 360.7L417.4 362.6L419.4 364.5L421.3 366.4L423.4 368.3L425.4 370.2L427.5 372L429.6 373.9L431.8 375.7L434 377.4L436.2 379.2L438.5 380.9L440.8 382.6L443.1 384.3L445.5 385.9L447.9 387.5L450.4 389.1L452.9 390.7L455.4 392.2L458 393.7L460.6 395.1L463.2 396.5L465.9 397.9L468.6 399.3L471.3 400.7L474 402L476.8 403.3L479.6 404.5L482.4 405.8L485.3 407L488.1 408.2L491.1 409.3L494 410.5L497 411.6L499.9 412.6L503 413.6L506 414.6L509.1 415.5L512.2 416.4L515.4 417.2L518.5 418L521.7 418.7L525 419.4L528.2 420L531.5 420.6L534.7 421.1L538 421.6L541.3 422L544.6 422.4L547.9 422.7L551.2 423L554.5 423.3L557.8 423.5L561.1 423.7L564.4 423.9L567.8 424L571.1 424.1L574.4 424.2L577.7 424.2L581 424.3L584.3 424.2L587.6 424.1L590.9 424L594.2 423.9L597.5 423.7L600.7 423.5L604 423.2L607.3 422.9L610.5 422.5L613.8 422.2L617 421.7L620.2 421.3L623.5 420.8L626.7 420.2L629.8 419.6L633 419L636.2 418.4L639.3 417.7L642.5 417L645.6 416.3L648.7 415.5L651.8 414.7L654.9 413.9L658 413L661 412.1L664 411.2L667 410.2L670 409.2L672.9 408.1L675.8 407L678.7 405.8L681.5 404.6L684.2 403.3L686.9 402L689.6 400.7L692.2 399.3L694.8 397.9L697.3 396.4L699.8 394.9L702.2 393.4L704.6 391.8L706.9 390.2L709.2 388.6L711.5 387L713.7 385.3L715.9 383.6L718 381.9L720.1 380.2L722.2 378.5L724.2 376.7L726.2 374.9L728.1 373.1L730.1 371.3L731.9 369.4L733.8 367.6L735.6 365.7L737.3 363.7L739 361.8L740.6 359.8L742.2 357.8L743.8 355.8L745.3 353.8L746.7 351.7L748.1 349.7L749.5 347.6L750.8 345.5L752.1 343.3L753.3 341.2L754.5 339L755.7 336.9L756.8 334.7L757.9 332.5L758.9 330.3L759.9 328.1L760.8 325.8L761.7 323.6L762.5 321.4L763.2 319.1L763.9 316.8L764.5 314.5L765 312.2L765.5 309.9L765.9 307.6L766.2 305.3L766.4 303L766.5 300.7Z" fill="#00a5ff"/>
<path d="M724.9 285L725 283.2L725.1 281.4L725.2 279.6L725.2 277.8L725.1 275.9L725 274.1L724.8 272.3L724.5 270.5L724.1 268.7L723.7 266.9L723.2 265.1L722.6 263.3L721.9 261.5L721.2 259.8L720.4 258L719.5 256.3L718.7 254.6L717.8 252.9L716.8 251.2L715.9 249.5L714.9 247.8L714 246.1L713.1 244.4L712.1 242.7L711.2 241.1L710.3 239.4L709.3 237.7L708.3 236L707.3 234.3L706.3 232.6L705.2 231L704.1 229.3L702.9 227.7L701.7 226L700.3 224.5L698.9 222.9L697.5 221.4L696 219.9L694.4 218.4L692.7 217L691 215.5L689.2 214.2L687.5 212.8L685.6 211.5L683.8 210.2L681.9 208.9L680.1 207.6L678.2 206.3L676.3 205.1L674.3 203.8L672.4 202.5L670.5 201.3L668.5 200.1L666.5 198.9L664.5 197.7L662.4 196.6L660.3 195.4L658.2 194.4L656 193.3L653.8 192.3L651.5 191.4L649.2 190.5L646.9 189.7L644.5 188.9L642.1 188.1L639.6 187.4L637.2 186.8L634.7 186.1L632.3 185.5L629.8 184.9L627.4 184.3L624.9 183.8L622.4 183.2L620 182.6L617.5 182L615 181.5L612.6 180.9L610.1 180.3L607.6 179.8L605.2 179.2L602.6 178.7L600.1 178.2L597.6 177.7L595 177.3L592.5 176.9L589.9 176.6L587.3 176.3L584.7 176.1L582.1 175.9L579.5 175.9L576.9 175.8L574.3 175.8L571.7 175.9L569.1 176L566.5 176.1L563.9 176.2L561.3 176.4L558.7 176.6L556.2 176.8L553.6 177L551 177.2L548.5 177.5L545.9 177.8L543.3 178L540.8 178.3L538.2 178.7L535.7 179L533.2 179.4L530.7 179.9L528.2 180.4L525.7 180.9L523.3 181.5L520.9 182.2L518.5 182.9L516.1 183.7L513.8 184.5L511.6 185.4L509.3 186.2L507.1 187.2L504.9 188.1L502.8 189.1L500.6 190L498.5 191L496.4 192L494.2 193L492.1 193.9L490 194.9L487.9 195.9L485.7 196.8L483.6 197.8L481.5 198.8L479.4 199.8L477.3 200.9L475.2 201.9L473.2 203L471.2 204.2L469.2 205.4L467.3 206.6L465.5 207.8L463.7 209.1L462 210.5L460.4 211.9L458.8 213.3L457.2 214.7L455.7 216.2L454.3 217.7L452.9 219.2L451.5 220.7L450.2 222.2L448.8 223.7L447.5 225.3L446.2 226.8L444.9 228.4L443.7 229.9L442.4 231.5L441.2 233.1L440 234.7L438.9 236.3L437.8 237.9L436.8 239.6L435.8 241.3L434.9 242.9L434.1 244.7L433.3 246.4L432.6 248.1L432.1 249.9L431.6 251.7L431.1 253.5L430.7 255.2L430.4 257L430.1 258.8L429.9 260.6L429.7 262.4L429.5 264.2L429.3 266L429.1 267.8L428.9 269.6L428.7 271.4L428.5 273.1L428.3 274.9L428.1 276.7L427.9 278.5L427.8 280.3L427.7 282.1L427.6 283.9L427.6 285.8L427.6 287.6L427.7 289.4L427.9 291.2L428.2 293L428.6 294.8L429 296.6L429.5 298.4L430.1 300.2L430.8 302L431.5 303.7L432.3 305.5L433.1 307.2L434 308.9L434.8 310.7L435.7 312.4L436.7 314.1L437.6 315.8L438.6 317.5L439.5 319.2L440.5 320.9L441.6 322.6L442.6 324.2L443.7 325.9L444.9 327.6L446.1 329.2L447.3 330.8L448.7 332.4L450.1 334L451.5 335.5L453.1 337L454.6 338.5L456.3 339.9L458 341.3L459.8 342.7L461.6 344L463.4 345.3L465.3 346.6L467.2 347.9L469 349.1L470.9 350.4L472.8 351.7L474.7 352.9L476.6 354.2L478.5 355.4L480.4 356.7L482.3 357.9L484.2 359.2L486.1 360.4L488 361.7L490 362.9L492 364.1L494.1 365.2L496.1 366.4L498.3 367.4L500.5 368.5L502.7 369.5L505 370.4L507.3 371.3L509.6 372.1L512 372.9L514.4 373.7L516.8 374.4L519.2 375.1L521.7 375.7L524.1 376.4L526.6 377L529.1 377.6L531.6 378.2L534.1 378.7L536.5 379.3L539 379.9L541.5 380.4L544.1 380.9L546.6 381.4L549.1 381.8L551.7 382.3L554.2 382.6L556.8 382.9L559.4 383.2L562 383.4L564.6 383.6L567.2 383.7L569.8 383.7L572.4 383.7L575 383.6L577.6 383.5L580.2 383.4L582.8 383.2L585.4 383L587.9 382.8L590.5 382.6L593 382.4L595.6 382.2L598.1 381.9L600.7 381.7L603.2 381.5L605.8 381.3L608.3 381.1L610.9 380.8L613.5 380.6L616 380.3L618.6 380L621.1 379.6L623.6 379.2L626.1 378.8L628.6 378.3L631.1 377.7L633.5 377.1L635.9 376.4L638.3 375.7L640.7 375L643 374.2L645.2 373.3L647.5 372.4L649.7 371.5L651.9 370.6L654.1 369.7L656.3 368.7L658.4 367.7L660.6 366.8L662.7 365.8L664.9 364.8L667 363.8L669.1 362.7L671.2 361.7L673.2 360.6L675.2 359.5L677.2 358.3L679.2 357.1L681.1 355.9L682.9 354.7L684.7 353.4L686.4 352L688 350.6L689.6 349.2L691.1 347.8L692.6 346.3L694 344.8L695.4 343.3L696.8 341.8L698.1 340.2L699.4 338.7L700.7 337.2L702 335.6L703.2 334.1L704.5 332.6L705.8 331.1L707.1 329.5L708.4 328L709.7 326.4L711 324.9L712.2 323.3L713.4 321.7L714.6 320.1L715.7 318.5L716.7 316.9L717.7 315.2L718.6 313.5L719.4 311.8L720.2 310.1L720.8 308.3L721.4 306.6L721.9 304.8L722.4 303L722.8 301.2L723.1 299.4L723.4 297.6L723.7 295.8L724 294L724.2 292.2L724.4 290.4L724.6 288.6L724.8 286.8Z" fill="#0033ff"/>
<path d="M1020.5 362L1012 360.6L877 319.7L840.5 306.6L808.5 289.9L764.5 261.5L742 255.2L716.2 233L701.5 223.5L665.3 207L654.6 203.5L612.1 196L575.5 185.3L563.5 183L517.5 181.7L495.5 184.7L466 191.8L461 191.6L452.5 188.9L443.5 188.8L396.5 194.6L365.5 195.7L341.5 193.7L274.5 183.6L210 173.2L207.8 172.5L207.2 171L210.3 166.5L219.5 159.7L226.9 157.5L246 148.4L261.5 142.9L268.7 141.5L314.5 125L325 122.3L330.8 123L350.6 133.5L380.5 137.6L393.6 144.5L400 145.9L409.5 145.6L437.5 139.9L442 141L449 146.5L458 146.9L515.7 135.5L519.2 133.5L521 131L520.5 128.5L515.8 121.5L514.8 115L516.3 108L522.2 96L523.7 86L521.2 63.5L514.9 46L518 43.7L525 42.4L543 42.1L571 46.2L579.5 49.7L612 58.2L641.4 69L683.2 82L718.1 90.5L770 98.9L777.5 98.7L794.5 100.8L820 105.8L828.5 106.3L846.5 112.3L859.5 118L867.9 123.5L870.5 127.6L842.1 140L815.5 154.8L806.5 161.5L796.1 174L789 179.5L781.5 183L764.1 187.5L762.5 190.5L764.1 194.5L770.8 201L811.9 231.5L823 235.3L836.5 234.5L843 235.7L849.5 239.4L867.5 253.2L878.5 258.9L887 260.9L910 262L947.5 273.8L982 275.4L986.5 276.8L993 283.9L1003.1 299L1016.7 325L1023.1 346.5L1022.3 358.5L1020.5 362ZM140 423.6L137.5 423.7L137.1 422L139 420.8L141.7 421L140 423.6ZM915.5 581.6L912.6 580.5L912 577.5L916.2 579L916.9 580.5L915.5 581.6ZM878.5 595.6L875 594.9L874.2 591.5L876.5 591.2L879.1 592.5L880 594.5L878.5 595.6Z" fill="#000" fill-opacity="0.0250" fill-rule="evenodd" shape-rendering="auto"/>
<path d="M1018 356.5L913 325.4L839 299.3L820.5 290.4L806 280.8L790 266.6L762.5 238.9L750 229.4L743.5 227.4L734.5 230L727 228.7L709.6 220.5L685 205.4L673.5 199.5L653.9 193L622 185L582 176.4L568 174.4L553 173.8L504.5 176.4L496.5 175.3L490.5 170.9L485 170L469.5 172.4L409.5 188.1L392.5 190.4L372 190.6L305 183.4L218 169.3L214.8 168.5L214.2 167L220.9 160.5L232 156.8L248 148.9L293 134L312.5 128.9L317.2 129.5L340 139.6L370.1 144L386.3 152L397 152.7L423.5 149.6L427.5 151L432.1 156.5L437 157.8L447.5 156.8L475 151.3L502.5 152.3L520 148.2L543.1 141L550 137L552 132L550.5 128L542.6 118.5L540.5 113L540.9 107.5L545.4 96L545.7 88.5L540.7 65L534.3 47L535.5 45.1L540 44.4L571.5 47.6L579 50.6L611.5 59.3L641 70.1L683.5 83.5L716.5 91.5L769.5 99.9L777.5 99.9L795 102.1L820 106.9L827.5 107.4L849.1 115.5L853.4 118L855 120.5L797.5 146.4L787.4 153L777.5 162.5L770.5 166.8L762 169.9L744 173.4L737.6 176L734.2 179L733.3 182L737.5 191L752 208.5L758 213.9L786.5 224.9L810.5 243L821 248.9L828.5 250.4L840.5 248.3L846.5 249.2L854 252.8L873.5 265.1L886 269.6L913 271.5L951.5 283.2L978.5 285.4L991.5 287.6L1002 300.2L1015.7 325.5L1021.9 346.5L1020.4 354.5L1018 356.5ZM278 175.5L280.5 174.5L280.4 173L271.2 169L259.5 166.7L252.4 168L253.5 170L259.5 172.6L271.5 175.3L278 175.5ZM980 337.5L980.1 336.5L977.3 334.5L970.2 332L957 329.4L951.4 330L954.5 332.5L964 335.8L976 337.8L980 337.5Z" fill="#000" fill-opacity="0.0256" fill-rule="evenodd" shape-rendering="auto"/>
<path d="M693.5 196.6L688 196.5L675.5 193.8L623.5 178.5L562.5 167.5L555.1 164.5L553.1 159.5L545.8 154.5L545.3 152.5L549.3 149.5L566.3 143L569.3 140L570 136.5L569 131L563.6 118L564.7 95L559.9 68.5L554.3 49L558 48.1L572.5 48.9L611.6 60.5L683 84.8L704.5 90.2L729 95.2L770 100.9L777.5 100.9L795 103.2L826 108.3L838.2 114L838.4 115L836.5 116.4L810.5 127.4L779.2 142.5L749.2 160L718.8 171.5L714.9 174.5L713.5 177.5L718.1 189L717.5 192.5L714 193.7L701 193.5L693.5 196.6ZM581.3 85L582.7 81L580.5 74.8L576 68.9L571 68.5L570.7 74.5L573.8 81.5L577 84.5L581.3 85ZM783.7 130L793 127.2L797.6 123.5L794 123L784.8 126L780.9 129L783.7 130ZM398.5 185L320 181L302.8 178.5L288 172L263.5 165.9L252 165.2L237.5 167.8L223 165.7L220.3 163.5L222 161.4L234 157.4L250.5 149L292.9 136L300 134.9L306 136L327 143.4L358 148.2L363.5 150.7L370 156L374.5 157.5L386 158.3L411.5 157.3L414.1 159L415.8 165.5L419 167L428.5 166.5L455.5 160.7L460.5 160.5L462.8 161.5L461.6 164L457.3 167L438 175.8L418 182L398.5 185ZM1018.5 350.7L996.5 344.6L992 342.3L988 338L983.1 335L970.5 330.5L943 324.7L926.5 324.4L907 318.7L824.5 285.4L810 276.7L795 262L786.3 249L783.9 243L784.2 239L787 237.4L793 239.4L817.5 258.8L827.5 264.1L833.5 264.7L844.5 260.3L850.5 260.2L858 263L879 274.8L889.5 278.8L897.5 279.9L910 279L918.5 279.8L958 291.4L996 297.6L1001.5 302.8L1013.7 323L1016.5 331.1L1017.9 339L1020.7 345.5L1020.5 348.6L1018.5 350.7Z" fill="#000" fill-opacity="0.0263" fill-rule="evenodd" shape-rendering="auto"/>
<path d="M661.5 181.1L654.5 179.9L628.5 170.2L599 167.1L593.3 165L599.7 161.5L600.3 160L589.7 151L585.4 141L584 132.5L586.1 119L580.8 100.5L583.5 96.7L597.5 94.1L599.3 93L599.7 91L595.7 84.5L573.7 62.5L568.5 53.5L568.5 50.5L574 50.4L629.2 67.5L675.3 85L680.7 88L682.2 90L679.4 92L670.6 95L669.6 96.5L670.1 98L677.7 103.5L689.2 107.5L703.5 109.5L714.5 108.4L718.1 106L717.1 99L723 97.6L777.5 102L808 106.5L825.5 110.5L823 112.9L810.5 117.1L791.5 120.3L764 127.5L760.3 129.5L759 131.5L762.4 137L762.2 139L757 143L730.7 153.5L713.6 163.5L701 168.7L683.5 173.4L663 174.7L661.6 176L663 180L661.5 181.1ZM355 178L326.5 176.8L317.6 175L302 169.7L260 164.2L249.5 163.5L236 165.1L227 164.1L224.5 162.5L229.5 159.9L239 158L241.7 155L246.6 152L262.5 145.8L288 141.8L302.5 143.6L343.2 151.5L348 154L349 160.5L353.2 162.5L368 163.6L392.5 162.9L397.5 164.5L397 166.5L394.5 169L385 173.6L371.5 176.6L355 178ZM1018.5 348.1L1003.5 343.9L982 332.8L937.5 318L907.5 313.1L886 304.9L866 294.1L857 287L851.9 280L851.6 274L855.1 271.5L861.5 272.6L889.5 286.9L904 292.4L910.5 293.1L919 288.6L928.5 288.8L992.5 306.6L1006.5 315.2L1011.5 320.7L1015.4 332.5L1015.4 335.5L1013.8 338.5L1019.2 344L1019.7 346.5L1018.5 348.1Z" fill="#000" fill-opacity="0.0270" fill-rule="evenodd" shape-rendering="auto"/>
<path d="M603 75.2L597 74.5L585.5 69.6L580 65.3L575.5 59.9L572.9 52.5L575 52.1L584.1 55.5L602.1 70.5L603.8 73.5L603 75.2ZM641 88.6L635.5 86.4L630.7 81L629.6 73L630.5 71L634.5 71.1L642.8 75.5L643.3 85L641 88.6ZM749 113L744.3 112L747.7 108.5L758.5 103.5L767 102.8L776.4 105L773 107.7L764 111.3L749 113ZM706.5 124L689.5 123.5L667.9 118.5L654.9 112.5L651 109L650 106L651.5 105.2L655 105.9L682.5 117.2L717.2 120.5L715.1 122.5L706.5 124ZM686.5 164.5L672.5 164.7L646.5 161.2L622.5 154.8L604.5 147.2L599 142.5L598.3 138L601 135.4L610.5 132.2L611.9 130L600.8 115L599.5 111.5L600 109.1L604 107.7L612.5 109.2L645.7 122L669.5 128.5L692.4 133L727.5 136.1L734.5 137.7L737.4 139.5L735.7 142L729.9 144.5L701.7 151.5L699.7 153.5L699.9 158.5L698.5 160.7L693 163.4L686.5 164.5ZM788.5 117.5L779.4 117L776.6 115.5L784.4 112.5L797.5 110.3L812 108.9L818 110.5L816.5 112L809 114.5L788.5 117.5ZM284 163.5L270 163.7L256.1 161.5L254.1 160L255.8 156.5L254 152.5L263.7 147L273.5 145.1L290 148.7L302.6 149L312.6 151L316.7 153L315.6 154L311.5 153.9L294.5 149.8L289.5 150.3L287 152L288 154L302.5 161L295 162.8L284 163.5ZM358 172L351.8 171.5L363.6 170.5L358 172ZM889.5 297.8L882.6 295.5L876 289.7L883.2 292L888.7 296L889.5 297.8ZM992.5 333L987 332.4L971.2 327L964.6 324L953.3 316.5L951.7 314L957.5 313.9L975 316.9L981.1 316L979.9 314L975.5 311.4L955.1 305L950.1 302L957 302L975.4 306.5L988 312.1L1006 317.2L1010 320.4L1011.4 324L1010.5 328.5L996.5 328.8L992.5 333ZM1017.5 345.6L1011.1 344L1008 341.6L1015.6 343L1017.5 345.6Z" fill="#000" fill-opacity="0.0278" fill-rule="evenodd" shape-rendering="auto"/>
<path d="M692.5 144.5L668 144.2L651.5 140.7L634.5 132.9L625.8 127L623.2 123L628 122.5L665.5 133.5L705.4 141.5L702 143.3L692.5 144.5ZM676.5 160L662 159.4L638.5 155L620.4 149L615.2 146L613.5 143.5L616.5 141.7L625 141.7L656.5 146.8L674.5 152.7L681.2 157L680.4 159L676.5 160Z" fill="#000" fill-opacity="0.0286" fill-rule="evenodd" shape-rendering="auto"/>
</g>
<path d="M998.3 363.3L998.3 361.1L998.3 358.9L998.2 356.7L998.1 354.6L998 352.6L997.8 350.6L997.5 348.6L997.3 346.7L996.9 344.8L996.6 342.9L996.2 341.1L995.8 339.3L995.3 337.5L994.8 335.8L994.3 334L993.7 332.3L993.1 330.6L992.5 329L991.8 327.3L991.1 325.6L990.4 324L989.6 322.3L988.8 320.7L988 319L987.2 317.4L986.3 315.7L985.4 314L984.5 312.3L983.5 310.5L982.5 308.8L981.5 307L980.5 305.2L979.4 303.3L978.3 301.5L977.2 299.5L976.1 297.6L975 295.6L973.8 293.6L972.6 291.5L971.4 289.4L970.2 287.2L968.9 285L967.6 282.7L966.3 280.4L965 278L963.7 275.6L962.3 273.2L960.9 270.7L959.5 268.1L958.1 265.5L956.7 262.9L955.2 260.2L953.7 257.4L952.2 254.7L950.7 251.8L949.1 249L947.6 246.1L946 243.2L944.4 240.2L942.7 237.2L941.1 234.2L939.4 231.1L937.7 228.1L935.9 225L934.2 221.9L932.4 218.8L930.6 215.7L928.7 212.6L926.9 209.5L925 206.4L923.1 203.3L921.1 200.2L919.1 197.1L917.1 194L915.1 191L913.1 188L911 185L908.8 182L906.7 179.1L904.5 176.3L902.3 173.4L900.1 170.6L897.8 167.9L895.5 165.2L893.1 162.6L890.8 160L888.4 157.5L886 155L883.5 152.6L881 150.3L878.5 148L875.9 145.8L873.3 143.7L870.7 141.7L868.1 139.7L865.4 137.8L862.7 135.9L860 134.2L857.2 132.5L854.4 130.9L851.6 129.3L848.7 127.9L845.9 126.5L843 125.2L840 123.9L837.1 122.7L834.1 121.6L831.1 120.5L828.1 119.6L825 118.6L822 117.8L818.9 117L815.8 116.2L812.6 115.5L809.5 114.8L806.3 114.2L803.1 113.7L799.9 113.1L796.7 112.6L793.4 112.2L790.2 111.7L786.9 111.3L783.6 111L780.3 110.6L777 110.2L773.7 109.9L770.3 109.6L767 109.3L763.6 108.9L760.2 108.6L756.8 108.3L753.5 107.9L750.1 107.6L746.6 107.2L743.2 106.9L739.8 106.5L736.4 106L732.9 105.6L729.5 105.1L726 104.6L722.6 104.1L719.1 103.5L715.6 102.9L712.1 102.3L708.6 101.6L705.2 100.9L701.7 100.1L698.2 99.3L694.6 98.5L691.1 97.7L687.6 96.7L684.1 95.8L680.6 94.8L677 93.8L673.5 92.8L669.9 91.7L666.4 90.6L662.8 89.4L659.3 88.3L655.7 87.1L652.2 85.8L648.6 84.6L645 83.3L641.4 82.1L637.8 80.8L634.2 79.5L630.6 78.2L627 76.9L623.4 75.6L619.8 74.3L616.2 73L612.5 71.7L608.9 70.4L605.3 69.2L601.6 68L598 66.8L594.3 65.6L590.7 64.5L587 63.4L583.4 62.3L579.7 61.3L576 60.3L572.4 59.4L568.7 58.6L565 57.7L561.3 57L557.6 56.3L554 55.7L550.3 55.2L546.6 54.7L542.9 54.3L539.2 53.9L535.5 53.7L531.8 53.5L528.2 53.4L524.5 53.4L520.8 53.4L517.1 53.6L513.5 53.8L509.8 54.1L506.1 54.5L502.5 54.9L498.8 55.5L495.2 56.1L491.5 56.8L487.9 57.6L484.2 58.4L480.6 59.4L477 60.4L473.4 61.5L469.8 62.6L466.2 63.8L462.7 65.1L459.1 66.5L455.5 67.9L452 69.3L448.5 70.8L444.9 72.4L441.4 74L437.9 75.7L434.5 77.4L431 79.1L427.5 80.9L424.1 82.7L420.6 84.5L417.2 86.4L413.8 88.2L410.4 90.1L407.1 92L403.7 93.9L400.4 95.8L397 97.7L393.7 99.6L390.4 101.5L387.1 103.4L383.8 105.3L380.6 107.1L377.3 109L374.1 110.8L370.9 112.6L367.7 114.4L364.5 116.1L361.4 117.8L358.2 119.5L355.1 121.1L351.9 122.8L348.8 124.3L345.7 125.9L342.7 127.3L339.6 128.8L336.6 130.2L333.5 131.6L330.5 132.9L327.5 134.2L324.5 135.4L321.6 136.7L318.6 137.8L315.7 139L312.8 140.1L309.9 141.1L307 142.2L304.1 143.2L301.2 144.2L298.4 145.1L295.6 146L292.8 147L290 147.8L287.2 148.7L284.5 149.6L281.8 150.4L279.1 151.3L276.4 152.1L273.7 153L271 153.8L268.4 154.7L265.8 155.6L263.2 156.4L260.7 157.3L258.1 158.3L255.6 159.2L253.1 160.2L250.6 161.2L248.2 162.2L245.7 163.3L243.4 164.4L241 165.6L238.6 166.8L236.3 168.1L234 169.4L231.8 170.7L229.5 172.1L227.3 173.6L225.1 175.2L223 176.8L220.9 178.4L218.8 180.1L216.7 181.9L214.7 183.8L212.7 185.7L210.8 187.7L208.8 189.8L206.9 191.9L205.1 194.1L203.3 196.4L201.5 198.7L199.7 201.1L198 203.6L196.3 206.1L194.6 208.7L193 211.4L191.4 214.1L189.9 216.9L188.3 219.7L186.9 222.6L185.4 225.5L184 228.5L182.6 231.5L181.3 234.6L179.9 237.8L178.7 240.9L177.4 244.1L176.2 247.3L175 250.6L173.9 253.9L172.7 257.2L171.7 260.5L170.6 263.8L169.6 267.2L168.6 270.5L167.6 273.9L166.7 277.2L165.8 280.6L165 283.9L164.1 287.3L163.3 290.6L162.5 293.9L161.8 297.2L161.1 300.4L160.4 303.7L159.7 306.9L159.1 310L158.5 313.2L157.9 316.3L157.3 319.3L156.8 322.3L156.3 325.3L155.8 328.2L155.4 331.1L155 333.9L154.6 336.7L154.2 339.5L153.8 342.1L153.5 344.8L153.2 347.3L153 349.8L152.7 352.3L152.5 354.7L152.3 357.1L152.2 359.4L152 361.7L151.9 363.9L151.8 366L151.8 368.1L151.8 370.2L151.8 372.2L151.8 374.2L151.8 376.2L151.9 378.1L152 380L152.2 381.8L152.3 383.6L152.5 385.4L152.7 387.2L153 388.9L153.3 390.6L153.6 392.3L153.9 394L154.3 395.7L154.7 397.4L155.1 399.1L155.6 400.8L156.1 402.5L156.7 404.1L157.2 405.8L157.8 407.6L158.5 409.3L159.1 411L159.8 412.8L160.6 414.6L161.4 416.4L162.2 418.2L163 420.1L163.9 422L164.8 423.9L165.8 425.9L166.8 427.9L167.8 430L168.8 432L169.9 434.2L171.1 436.3L172.3 438.6L173.5 440.8L174.7 443.1L176 445.5L177.3 447.8L178.7 450.3L180 452.8L181.5 455.3L182.9 457.8L184.4 460.4L186 463.1L187.5 465.8L189.1 468.5L190.7 471.3L192.4 474L194.1 476.9L195.8 479.7L197.6 482.6L199.4 485.5L201.2 488.5L203.1 491.4L205 494.4L206.9 497.4L208.8 500.4L210.8 503.4L212.8 506.4L214.8 509.4L216.9 512.4L219 515.5L221.1 518.5L223.2 521.5L225.4 524.5L227.6 527.5L229.8 530.4L232 533.3L234.3 536.3L236.6 539.1L238.9 542L241.2 544.8L243.6 547.6L245.9 550.3L248.3 553L250.7 555.7L253.2 558.3L255.6 560.8L258.1 563.3L260.6 565.7L263.1 568.1L265.6 570.5L268.2 572.7L270.8 574.9L273.3 577.1L276 579.1L278.6 581.1L281.2 583.1L283.9 585L286.6 586.8L289.3 588.5L292 590.2L294.7 591.8L297.5 593.4L300.2 594.9L303 596.3L305.8 597.6L308.7 598.9L311.5 600.2L314.4 601.3L317.3 602.4L320.2 603.5L323.1 604.5L326 605.5L329 606.4L331.9 607.2L334.9 608.1L337.9 608.8L341 609.6L344 610.3L347.1 610.9L350.2 611.6L353.3 612.2L356.4 612.8L359.5 613.3L362.7 613.8L365.9 614.4L369 614.9L372.3 615.4L375.5 615.9L378.7 616.4L382 616.8L385.3 617.3L388.6 617.8L391.9 618.3L395.2 618.8L398.6 619.3L401.9 619.8L405.3 620.4L408.7 620.9L412.1 621.5L415.5 622.1L418.9 622.7L422.4 623.3L425.9 623.9L429.3 624.6L432.8 625.3L436.3 626L439.8 626.8L443.4 627.6L446.9 628.4L450.4 629.2L454 630.1L457.6 631L461.1 631.9L464.7 632.8L468.3 633.8L471.9 634.7L475.5 635.7L479.1 636.8L482.7 637.8L486.3 638.9L490 640L493.6 641.1L497.2 642.2L500.9 643.3L504.5 644.4L508.2 645.5L511.8 646.7L515.5 647.8L519.1 649L522.8 650.1L526.4 651.2L530.1 652.3L533.7 653.4L537.4 654.5L541.1 655.6L544.7 656.6L548.4 657.6L552 658.6L555.7 659.6L559.4 660.5L563 661.4L566.7 662.2L570.3 663L574 663.8L577.6 664.5L581.3 665.2L584.9 665.8L588.6 666.3L592.2 666.8L595.9 667.3L599.5 667.7L603.2 668L606.8 668.2L610.5 668.4L614.1 668.5L617.7 668.6L621.4 668.6L625 668.5L628.6 668.3L632.3 668.1L635.9 667.8L639.5 667.4L643.2 667L646.8 666.5L650.4 665.9L654 665.2L657.6 664.5L661.3 663.7L664.9 662.9L668.5 662L672.1 661L675.7 659.9L679.3 658.8L682.9 657.7L686.5 656.5L690.1 655.2L693.7 653.9L697.2 652.5L700.8 651.1L704.4 649.6L708 648.1L711.5 646.6L715.1 645L718.6 643.4L722.1 641.8L725.7 640.1L729.2 638.5L732.7 636.8L736.2 635.1L739.6 633.3L743.1 631.6L746.6 629.9L750 628.1L753.4 626.4L756.9 624.6L760.3 622.9L763.7 621.1L767 619.4L770.4 617.7L773.7 616L777 614.3L780.3 612.6L783.6 611L786.9 609.3L790.1 607.7L793.3 606.1L796.5 604.6L799.7 603L802.9 601.5L806 600.1L809.1 598.6L812.2 597.2L815.2 595.8L818.3 594.5L821.3 593.1L824.3 591.8L827.2 590.6L830.2 589.3L833.1 588.1L835.9 586.9L838.8 585.7L841.6 584.6L844.4 583.5L847.2 582.4L849.9 581.3L852.6 580.3L855.3 579.2L858 578.2L860.6 577.2L863.2 576.2L865.8 575.2L868.3 574.2L870.9 573.3L873.4 572.3L875.8 571.3L878.3 570.3L880.7 569.3L883.1 568.3L885.5 567.2L887.8 566.2L890.1 565.1L892.4 564L894.7 562.9L897 561.8L899.2 560.6L901.4 559.4L903.6 558.2L905.7 556.9L907.9 555.5L910 554.2L912.1 552.7L914.1 551.3L916.2 549.8L918.2 548.2L920.3 546.6L922.2 544.9L924.2 543.1L926.2 541.3L928.1 539.5L930 537.5L931.9 535.5L933.8 533.5L935.7 531.4L937.5 529.2L939.3 527L941.1 524.7L942.9 522.3L944.7 519.9L946.4 517.4L948.1 514.8L949.8 512.2L951.5 509.6L953.2 506.8L954.8 504.1L956.5 501.2L958.1 498.4L959.6 495.4L961.2 492.5L962.7 489.4L964.2 486.4L965.7 483.3L967.2 480.2L968.6 477L970 473.8L971.4 470.6L972.8 467.4L974.1 464.1L975.4 460.8L976.7 457.5L977.9 454.3L979.1 451L980.3 447.7L981.5 444.4L982.6 441.1L983.7 437.8L984.7 434.5L985.7 431.2L986.7 428L987.6 424.8L988.5 421.5L989.4 418.4L990.2 415.2L991 412.1L991.8 409L992.5 406L993.2 403L993.8 400L994.4 397.1L995 394.2L995.5 391.3L995.9 388.5L996.4 385.8L996.8 383.1L997.1 380.4L997.4 377.9L997.7 375.3L997.9 372.8L998.1 370.4L998.2 368L998.3 365.6Z" fill="none" stroke="#15301a" stroke-width="1"/>
<path d="M649.4 239L661.1 236.2L672.9 233.5L684.7 230.7L696.4 227.9L708.1 226.2L719.8 225.4L731.5 224.6L743.2 224L754.9 223.5L766.6 223L778.2 222.8L789.9 222.7L801.6 222.5L813.3 222L824.9 221.5L836.6 221.1L848.3 220.7L860 220.3L871.7 219.4L883.4 218.4L895.1 217.4L906.8 216.4L918.5 215.3L930.2 214.7" fill="none" stroke="#15301a" stroke-width="1"/>
<path d="M585.8 210.2L587.3 202.7L588.7 195.3L590.2 187.9L591.7 180.5L593.1 174.1L594.5 168.6L595.9 163.2L597.3 157.9L598.7 152.7L600 147.5L601.4 142.7L602.8 137.9L604.2 133L605.5 127.8L606.9 122.7L608.3 117.6L609.7 112.6L611.1 107.5L612.5 101.9L613.9 96.2L615.3 90.6L616.7 84.9L618.1 79.1L619.5 73.8" fill="none" stroke="#15301a" stroke-width="1"/>
<path d="M515.1 226.3L505.1 221.5L495.1 216.7L485.1 211.8L475.1 207L465.1 203.3L455 200.4L445 197.6L434.9 194.9L424.8 192.3L414.8 189.7L404.7 187.5L394.6 185.4L384.5 183L374.5 180.5L364.4 178L354.3 175.5L344.2 173.1L334.2 170.6L324.1 167.6L314.1 164.6L304 161.5L294 158.4L283.9 155.3L273.8 152.6" fill="none" stroke="#15301a" stroke-width="1"/>
<path d="M490.5 275.2L476.5 278.3L462.5 281.4L448.5 284.5L434.5 287.6L420.5 291.8L406.5 296.9L392.4 301.9L378.4 307.2L364.3 312.5L350.3 317.9L336.2 323.6L322.1 329.4L308.1 335L294 340.4L280 345.7L265.9 351.2L251.8 356.7L237.8 362.1L223.7 367L209.7 372L195.7 376.9L181.6 381.7L167.6 386.4L153.5 391.7" fill="none" stroke="#15301a" stroke-width="1"/>
<path d="M530.5 320.1L523 330.5L515.5 340.8L508 351.2L500.5 361.6L493 373L485.4 385.4L477.8 397.7L470.3 410.2L462.7 422.8L455.1 435.4L447.5 448.4L439.9 461.5L432.4 474.4L424.8 487L417.2 499.7L409.6 512.4L402.1 525.2L394.5 537.9L386.9 550L379.4 562.2L371.8 574.4L364.3 586.5L356.7 598.5L349.1 611" fill="none" stroke="#15301a" stroke-width="1"/>
<path d="M605 327.1L609.6 338.7L614.2 350.2L618.7 361.7L623.3 373.2L627.8 385.8L632.4 399.3L636.9 412.7L641.4 426.4L645.9 440.1L650.4 453.9L654.8 468L659.3 482.2L663.8 496.2L668.3 510L672.8 523.8L677.3 537.7L681.8 551.6L686.3 565.5L690.8 578.8L695.3 592.1L699.8 605.4L704.3 618.6L708.9 631.8L713.4 645.5" fill="none" stroke="#15301a" stroke-width="1"/>
<path d="M657.9 291L671.1 296.7L684.2 302.4L697.4 308.1L710.5 313.7L723.6 320.5L736.7 328.1L749.8 335.7L762.8 343.5L775.9 351.4L789 359.4L802 367.6L815.1 376L828.1 384.1L841.2 392.1L854.3 400L867.3 408.1L880.4 416.1L893.5 424.1L906.5 431.6L919.6 439.1L932.7 446.5L945.8 453.9L958.9 461.3L971.9 469.1" fill="none" stroke="#15301a" stroke-width="1"/>
<clipPath id="hc"><path d="M662.7 272.8L662.7 270.7L662.6 268.6L662.4 266.5L662.1 264.4L661.7 262.3L661.2 260.2L660.6 258.1L659.9 256.1L659.1 254.1L658.2 252L657.2 250L656.1 248.1L654.8 246.1L653.5 244.2L652.1 242.3L650.7 240.5L649.1 238.6L647.4 236.9L645.6 235.1L643.8 233.4L641.9 231.8L639.9 230.2L637.8 228.6L635.6 227.1L633.4 225.7L631.1 224.3L628.7 222.9L626.3 221.6L623.8 220.4L621.3 219.2L618.7 218.1L616 217.1L613.3 216.1L610.6 215.2L607.8 214.3L604.9 213.5L602.1 212.8L599.2 212.2L596.3 211.6L593.3 211.1L590.4 210.7L587.4 210.3L584.4 210L581.4 209.8L578.4 209.7L575.3 209.6L572.3 209.6L569.3 209.7L566.3 209.9L563.3 210.1L560.4 210.4L557.4 210.8L554.5 211.2L551.6 211.7L548.7 212.3L545.8 213L543 213.7L540.3 214.5L537.6 215.4L534.9 216.3L532.3 217.3L529.7 218.3L527.2 219.5L524.7 220.6L522.4 221.9L520 223.2L517.8 224.5L515.6 226L513.5 227.4L511.5 228.9L509.5 230.5L507.6 232.1L505.8 233.8L504.1 235.5L502.5 237.2L501 239L499.6 240.8L498.2 242.7L497 244.6L495.8 246.5L494.8 248.5L493.8 250.4L493 252.5L492.2 254.5L491.6 256.5L491.1 258.6L490.6 260.6L490.3 262.7L490.1 264.8L489.9 266.9L489.9 269L490 271.1L490.2 273.2L490.5 275.3L490.9 277.4L491.4 279.5L492 281.6L492.7 283.6L493.5 285.6L494.4 287.7L495.5 289.7L496.6 291.6L497.8 293.6L499.1 295.5L500.5 297.4L502 299.2L503.6 301.1L505.2 302.8L507 304.6L508.8 306.3L510.7 307.9L512.8 309.5L514.8 311.1L517 312.6L519.2 314L521.5 315.4L523.9 316.8L526.3 318.1L528.8 319.3L531.4 320.5L534 321.6L536.6 322.6L539.3 323.6L542.1 324.5L544.8 325.4L547.7 326.2L550.5 326.9L553.4 327.5L556.4 328.1L559.3 328.6L562.3 329L565.3 329.4L568.2 329.7L571.3 329.9L574.3 330L577.3 330.1L580.3 330.1L583.3 330L586.3 329.8L589.3 329.6L592.3 329.3L595.2 328.9L598.2 328.5L601.1 328L603.9 327.4L606.8 326.7L609.6 326L612.3 325.2L615.1 324.3L617.7 323.4L620.4 322.4L622.9 321.4L625.4 320.2L627.9 319.1L630.3 317.8L632.6 316.5L634.8 315.2L637 313.7L639.1 312.3L641.2 310.8L643.1 309.2L645 307.6L646.8 305.9L648.5 304.2L650.1 302.5L651.6 300.7L653.1 298.9L654.4 297L655.6 295.1L656.8 293.2L657.8 291.2L658.8 289.3L659.6 287.3L660.4 285.2L661 283.2L661.6 281.1L662 279.1L662.3 277L662.6 274.9Z"/></clipPath>
<path d="M662.7 272.8L662.7 270.7L662.6 268.6L662.4 266.5L662.1 264.4L661.7 262.3L661.2 260.2L660.6 258.1L659.9 256.1L659.1 254.1L658.2 252L657.2 250L656.1 248.1L654.8 246.1L653.5 244.2L652.1 242.3L650.7 240.5L649.1 238.6L647.4 236.9L645.6 235.1L643.8 233.4L641.9 231.8L639.9 230.2L637.8 228.6L635.6 227.1L633.4 225.7L631.1 224.3L628.7 222.9L626.3 221.6L623.8 220.4L621.3 219.2L618.7 218.1L616 217.1L613.3 216.1L610.6 215.2L607.8 214.3L604.9 213.5L602.1 212.8L599.2 212.2L596.3 211.6L593.3 211.1L590.4 210.7L587.4 210.3L584.4 210L581.4 209.8L578.4 209.7L575.3 209.6L572.3 209.6L569.3 209.7L566.3 209.9L563.3 210.1L560.4 210.4L557.4 210.8L554.5 211.2L551.6 211.7L548.7 212.3L545.8 213L543 213.7L540.3 214.5L537.6 215.4L534.9 216.3L532.3 217.3L529.7 218.3L527.2 219.5L524.7 220.6L522.4 221.9L520 223.2L517.8 224.5L515.6 226L513.5 227.4L511.5 228.9L509.5 230.5L507.6 232.1L505.8 233.8L504.1 235.5L502.5 237.2L501 239L499.6 240.8L498.2 242.7L497 244.6L495.8 246.5L494.8 248.5L493.8 250.4L493 252.5L492.2 254.5L491.6 256.5L491.1 258.6L490.6 260.6L490.3 262.7L490.1 264.8L489.9 266.9L489.9 269L490 271.1L490.2 273.2L490.5 275.3L490.9 277.4L491.4 279.5L492 281.6L492.7 283.6L493.5 285.6L494.4 287.7L495.5 289.7L496.6 291.6L497.8 293.6L499.1 295.5L500.5 297.4L502 299.2L503.6 301.1L505.2 302.8L507 304.6L508.8 306.3L510.7 307.9L512.8 309.5L514.8 311.1L517 312.6L519.2 314L521.5 315.4L523.9 316.8L526.3 318.1L528.8 319.3L531.4 320.5L534 321.6L536.6 322.6L539.3 323.6L542.1 324.5L544.8 325.4L547.7 326.2L550.5 326.9L553.4 327.5L556.4 328.1L559.3 328.6L562.3 329L565.3 329.4L568.2 329.7L571.3 329.9L574.3 330L577.3 330.1L580.3 330.1L583.3 330L586.3 329.8L589.3 329.6L592.3 329.3L595.2 328.9L598.2 328.5L601.1 328L603.9 327.4L606.8 326.7L609.6 326L612.3 325.2L615.1 324.3L617.7 323.4L620.4 322.4L622.9 321.4L625.4 320.2L627.9 319.1L630.3 317.8L632.6 316.5L634.8 315.2L637 313.7L639.1 312.3L641.2 310.8L643.1 309.2L645 307.6L646.8 305.9L648.5 304.2L650.1 302.5L651.6 300.7L653.1 298.9L654.4 297L655.6 295.1L656.8 293.2L657.8 291.2L658.8 289.3L659.6 287.3L660.4 285.2L661 283.2L661.6 281.1L662 279.1L662.3 277L662.6 274.9Z" fill="#0030f0"/>
<g clip-path="url(#hc)"><path d="M662.4 280.3L662.5 278.2L662.4 276.1L662.2 274L661.9 271.9L661.5 269.8L661 267.7L660.4 265.7L659.7 263.6L658.8 261.6L657.9 259.5L656.9 257.6L655.8 255.6L654.6 253.6L653.3 251.7L651.9 249.8L650.4 248L648.8 246.2L647.1 244.4L645.4 242.6L643.5 240.9L641.6 239.3L639.6 237.7L637.5 236.1L635.4 234.6L633.1 233.2L630.8 231.8L628.5 230.4L626.1 229.1L623.6 227.9L621 226.7L618.4 225.6L615.8 224.6L613.1 223.6L610.3 222.7L607.5 221.8L604.7 221.1L601.8 220.3L598.9 219.7L596 219.1L593.1 218.6L590.1 218.2L587.1 217.8L584.1 217.6L581.1 217.3L578.1 217.2L575.1 217.1L572.1 217.2L569.1 217.2L566.1 217.4L563.1 217.6L560.1 217.9L557.1 218.3L554.2 218.7L551.3 219.2L548.4 219.8L545.6 220.5L542.8 221.2L540 222L537.3 222.9L534.6 223.8L532 224.8L529.4 225.9L526.9 227L524.5 228.2L522.1 229.4L519.8 230.7L517.5 232.1L515.3 233.5L513.2 234.9L511.2 236.5L509.2 238L507.4 239.6L505.6 241.3L503.9 243L502.3 244.7L500.7 246.5L499.3 248.4L498 250.2L496.7 252.1L495.6 254L494.5 256L493.6 258L492.7 260L492 262L491.3 264L490.8 266.1L490.4 268.2L490 270.2L489.8 272.3L489.7 274.4L489.7 276.5L489.7 278.6L489.9 280.7L490.2 282.8L490.6 284.9L491.1 287L491.7 289.1L492.5 291.1L493.3 293.2L494.2 295.2L495.2 297.2L496.3 299.2L497.5 301.1L498.8 303L500.2 304.9L501.7 306.8L503.3 308.6L505 310.3L506.7 312.1L508.6 313.8L510.5 315.4L512.5 317L514.6 318.6L516.7 320.1L519 321.6L521.3 323L523.6 324.3L526.1 325.6L528.5 326.8L531.1 328L533.7 329.1L536.4 330.1L539.1 331.1L541.8 332L544.6 332.9L547.4 333.7L550.3 334.4L553.2 335L556.1 335.6L559 336.1L562 336.5L565 336.9L568 337.2L571 337.4L574 337.5L577 337.6L580 337.6L583.1 337.5L586.1 337.3L589 337.1L592 336.8L595 336.4L597.9 336L600.8 335.5L603.7 334.9L606.5 334.2L609.3 333.5L612.1 332.7L614.8 331.9L617.5 330.9L620.1 329.9L622.7 328.9L625.2 327.8L627.6 326.6L630 325.3L632.3 324L634.6 322.7L636.8 321.3L638.9 319.8L640.9 318.3L642.9 316.7L644.7 315.1L646.5 313.4L648.2 311.7L649.8 310L651.4 308.2L652.8 306.4L654.1 304.5L655.4 302.6L656.5 300.7L657.6 298.7L658.5 296.8L659.4 294.8L660.1 292.7L660.8 290.7L661.3 288.6L661.8 286.6L662.1 284.5L662.3 282.4Z" fill="#fff" stroke="#15301a" stroke-width="1"/></g>
<path d="M662.7 272.8L662.7 270.7L662.6 268.6L662.4 266.5L662.1 264.4L661.7 262.3L661.2 260.2L660.6 258.1L659.9 256.1L659.1 254.1L658.2 252L657.2 250L656.1 248.1L654.8 246.1L653.5 244.2L652.1 242.3L650.7 240.5L649.1 238.6L647.4 236.9L645.6 235.1L643.8 233.4L641.9 231.8L639.9 230.2L637.8 228.6L635.6 227.1L633.4 225.7L631.1 224.3L628.7 222.9L626.3 221.6L623.8 220.4L621.3 219.2L618.7 218.1L616 217.1L613.3 216.1L610.6 215.2L607.8 214.3L604.9 213.5L602.1 212.8L599.2 212.2L596.3 211.6L593.3 211.1L590.4 210.7L587.4 210.3L584.4 210L581.4 209.8L578.4 209.7L575.3 209.6L572.3 209.6L569.3 209.7L566.3 209.9L563.3 210.1L560.4 210.4L557.4 210.8L554.5 211.2L551.6 211.7L548.7 212.3L545.8 213L543 213.7L540.3 214.5L537.6 215.4L534.9 216.3L532.3 217.3L529.7 218.3L527.2 219.5L524.7 220.6L522.4 221.9L520 223.2L517.8 224.5L515.6 226L513.5 227.4L511.5 228.9L509.5 230.5L507.6 232.1L505.8 233.8L504.1 235.5L502.5 237.2L501 239L499.6 240.8L498.2 242.7L497 244.6L495.8 246.5L494.8 248.5L493.8 250.4L493 252.5L492.2 254.5L491.6 256.5L491.1 258.6L490.6 260.6L490.3 262.7L490.1 264.8L489.9 266.9L489.9 269L490 271.1L490.2 273.2L490.5 275.3L490.9 277.4L491.4 279.5L492 281.6L492.7 283.6L493.5 285.6L494.4 287.7L495.5 289.7L496.6 291.6L497.8 293.6L499.1 295.5L500.5 297.4L502 299.2L503.6 301.1L505.2 302.8L507 304.6L508.8 306.3L510.7 307.9L512.8 309.5L514.8 311.1L517 312.6L519.2 314L521.5 315.4L523.9 316.8L526.3 318.1L528.8 319.3L531.4 320.5L534 321.6L536.6 322.6L539.3 323.6L542.1 324.5L544.8 325.4L547.7 326.2L550.5 326.9L553.4 327.5L556.4 328.1L559.3 328.6L562.3 329L565.3 329.4L568.2 329.7L571.3 329.9L574.3 330L577.3 330.1L580.3 330.1L583.3 330L586.3 329.8L589.3 329.6L592.3 329.3L595.2 328.9L598.2 328.5L601.1 328L603.9 327.4L606.8 326.7L609.6 326L612.3 325.2L615.1 324.3L617.7 323.4L620.4 322.4L622.9 321.4L625.4 320.2L627.9 319.1L630.3 317.8L632.6 316.5L634.8 315.2L637 313.7L639.1 312.3L641.2 310.8L643.1 309.2L645 307.6L646.8 305.9L648.5 304.2L650.1 302.5L651.6 300.7L653.1 298.9L654.4 297L655.6 295.1L656.8 293.2L657.8 291.2L658.8 289.3L659.6 287.3L660.4 285.2L661 283.2L661.6 281.1L662 279.1L662.3 277L662.6 274.9Z" fill="none" stroke="#15301a" stroke-width="1"/>
<g clip-path="url(#hc)"><path d="M649.4 239L649.1 246.5" stroke="#15301a" stroke-width="1"/></g>
<g clip-path="url(#hc)"><path d="M585.8 210.2L585.6 217.7" stroke="#15301a" stroke-width="1"/></g>
<g clip-path="url(#hc)"><path d="M515.1 226.3L514.8 233.8" stroke="#15301a" stroke-width="1"/></g>
<g clip-path="url(#hc)"><path d="M490.5 275.2L490.2 282.7" stroke="#15301a" stroke-width="1"/></g>
<g clip-path="url(#hc)"><path d="M530.5 320.1L530.2 327.6" stroke="#15301a" stroke-width="1"/></g>
<g clip-path="url(#hc)"><path d="M605 327.1L604.8 334.7" stroke="#15301a" stroke-width="1"/></g>
<g clip-path="url(#hc)"><path d="M657.9 291L657.7 298.6" stroke="#15301a" stroke-width="1"/></g>
<clipPath id="h0"><path d="M948.2 285.7L947.4 284.6L946.4 283.4L945.3 282.3L944 281.3L942.5 280.3L941 279.3L939.3 278.4L937.7 277.7L935.9 277L934.2 276.5L932.5 276L930.9 275.8L929.4 275.6L928 275.6L926.7 275.8L925.6 276.1L924.6 276.5L923.9 277.1L923.4 277.8L923.1 278.6L923 279.5L923.1 280.4L923.5 281.5L924.1 282.5L924.8 283.6L925.8 284.7L927 285.8L928.3 286.9L929.7 287.9L931.3 288.9L932.9 289.7L934.6 290.5L936.3 291.2L938 291.7L939.7 292.1L941.4 292.4L942.9 292.5L944.3 292.5L945.6 292.4L946.7 292.1L947.6 291.6L948.4 291.1L948.9 290.4L949.2 289.6L949.3 288.7L949.1 287.8L948.8 286.7Z"/></clipPath>
<g clip-path="url(#h0)"><path d="M944.2 294.1L943.4 293L942.4 291.9L941.3 290.8L940 289.7L938.5 288.7L937 287.7L935.3 286.9L933.6 286.1L931.9 285.4L930.2 284.9L928.5 284.5L926.9 284.2L925.4 284.1L924 284.1L922.7 284.2L921.6 284.5L920.6 285L919.9 285.5L919.4 286.2L919.1 287L919 287.9L919.1 288.9L919.5 289.9L920.1 291L920.8 292.1L921.8 293.2L923 294.3L924.3 295.3L925.7 296.3L927.3 297.3L928.9 298.2L930.6 298.9L932.3 299.6L934 300.1L935.7 300.6L937.3 300.8L938.9 301L940.3 301L941.6 300.8L942.7 300.5L943.6 300.1L944.4 299.5L944.9 298.8L945.2 298L945.3 297.1L945.1 296.2L944.8 295.1Z" fill="#fff" stroke="#15301a" stroke-width="1"/></g>
<path d="M948.2 285.7L947.4 284.6L946.4 283.4L945.3 282.3L944 281.3L942.5 280.3L941 279.3L939.3 278.4L937.7 277.7L935.9 277L934.2 276.5L932.5 276L930.9 275.8L929.4 275.6L928 275.6L926.7 275.8L925.6 276.1L924.6 276.5L923.9 277.1L923.4 277.8L923.1 278.6L923 279.5L923.1 280.4L923.5 281.5L924.1 282.5L924.8 283.6L925.8 284.7L927 285.8L928.3 286.9L929.7 287.9L931.3 288.9L932.9 289.7L934.6 290.5L936.3 291.2L938 291.7L939.7 292.1L941.4 292.4L942.9 292.5L944.3 292.5L945.6 292.4L946.7 292.1L947.6 291.6L948.4 291.1L948.9 290.4L949.2 289.6L949.3 288.7L949.1 287.8L948.8 286.7Z" fill="none" stroke="#15301a" stroke-width="1"/>
<clipPath id="h1"><path d="M839.6 138.8L838.1 138.1L836.5 137.4L834.8 136.8L833 136.3L831.2 135.9L829.4 135.6L827.6 135.5L825.8 135.5L824.1 135.6L822.6 135.8L821.1 136.2L819.9 136.6L818.8 137.2L817.9 137.9L817.3 138.6L816.9 139.5L816.7 140.4L816.7 141.3L817 142.3L817.5 143.2L818.3 144.2L819.2 145.1L820.4 146L821.7 146.9L823.2 147.7L824.8 148.4L826.5 149L828.3 149.5L830.1 149.8L832 150.1L833.8 150.3L835.5 150.3L837.2 150.2L838.7 149.9L840.2 149.6L841.4 149.1L842.5 148.5L843.4 147.8L844 147.1L844.5 146.3L844.6 145.4L844.6 144.4L844.3 143.5L843.8 142.5L843 141.5L842.1 140.6L840.9 139.7Z"/></clipPath>
<g clip-path="url(#h1)"><path d="M837.7 147.8L836.2 147L834.6 146.3L832.9 145.7L831.1 145.2L829.3 144.8L827.5 144.6L825.7 144.4L823.9 144.4L822.2 144.5L820.7 144.7L819.3 145.1L818 145.6L816.9 146.1L816.1 146.8L815.4 147.6L815 148.4L814.8 149.3L814.8 150.2L815.1 151.2L815.6 152.2L816.4 153.1L817.3 154.1L818.5 155L819.8 155.8L821.3 156.6L822.9 157.3L824.6 157.9L826.4 158.4L828.2 158.8L830.1 159.1L831.9 159.2L833.6 159.2L835.3 159.1L836.9 158.9L838.3 158.5L839.5 158L840.6 157.5L841.5 156.8L842.1 156L842.6 155.2L842.8 154.3L842.7 153.4L842.4 152.4L841.9 151.4L841.2 150.5L840.2 149.5L839 148.6Z" fill="#fff" stroke="#15301a" stroke-width="1"/></g>
<path d="M839.6 138.8L838.1 138.1L836.5 137.4L834.8 136.8L833 136.3L831.2 135.9L829.4 135.6L827.6 135.5L825.8 135.5L824.1 135.6L822.6 135.8L821.1 136.2L819.9 136.6L818.8 137.2L817.9 137.9L817.3 138.6L816.9 139.5L816.7 140.4L816.7 141.3L817 142.3L817.5 143.2L818.3 144.2L819.2 145.1L820.4 146L821.7 146.9L823.2 147.7L824.8 148.4L826.5 149L828.3 149.5L830.1 149.8L832 150.1L833.8 150.3L835.5 150.3L837.2 150.2L838.7 149.9L840.2 149.6L841.4 149.1L842.5 148.5L843.4 147.8L844 147.1L844.5 146.3L844.6 145.4L844.6 144.4L844.3 143.5L843.8 142.5L843 141.5L842.1 140.6L840.9 139.7Z" fill="none" stroke="#15301a" stroke-width="1"/>
<clipPath id="h2"><path d="M705.9 110.9L704.1 110.6L702.3 110.4L700.4 110.3L698.6 110.3L696.8 110.4L695.1 110.5L693.5 110.7L692.1 111L690.8 111.4L689.7 111.8L688.9 112.3L688.2 112.8L687.8 113.4L687.6 113.9L687.6 114.6L687.9 115.2L688.4 115.8L689.2 116.4L690.2 116.9L691.4 117.5L692.7 118L694.2 118.4L695.8 118.8L697.6 119.1L699.4 119.4L701.2 119.5L703.1 119.6L704.9 119.7L706.7 119.6L708.4 119.5L710 119.2L711.4 119L712.7 118.6L713.8 118.2L714.7 117.7L715.3 117.2L715.8 116.6L716 116L715.9 115.4L715.6 114.8L715.1 114.2L714.3 113.6L713.3 113L712.2 112.5L710.8 112L709.3 111.6L707.7 111.2Z"/></clipPath>
<g clip-path="url(#h2)"><path d="M705.3 120.8L703.5 120.5L701.6 120.3L699.8 120.2L697.9 120.2L696.1 120.3L694.4 120.4L692.9 120.6L691.4 120.9L690.1 121.3L689.1 121.7L688.2 122.2L687.5 122.7L687.1 123.3L686.9 123.8L686.9 124.4L687.2 125.1L687.8 125.7L688.5 126.3L689.5 126.8L690.7 127.4L692 127.9L693.5 128.3L695.2 128.7L696.9 129L698.7 129.3L700.6 129.4L702.4 129.5L704.2 129.6L706 129.5L707.7 129.4L709.3 129.1L710.7 128.8L712 128.5L713.1 128.1L714 127.6L714.7 127.1L715.1 126.5L715.3 125.9L715.2 125.3L714.9 124.7L714.4 124.1L713.6 123.5L712.7 122.9L711.5 122.4L710.1 121.9L708.6 121.5L707 121.1Z" fill="#fff" stroke="#15301a" stroke-width="1"/></g>
<path d="M705.9 110.9L704.1 110.6L702.3 110.4L700.4 110.3L698.6 110.3L696.8 110.4L695.1 110.5L693.5 110.7L692.1 111L690.8 111.4L689.7 111.8L688.9 112.3L688.2 112.8L687.8 113.4L687.6 113.9L687.6 114.6L687.9 115.2L688.4 115.8L689.2 116.4L690.2 116.9L691.4 117.5L692.7 118L694.2 118.4L695.8 118.8L697.6 119.1L699.4 119.4L701.2 119.5L703.1 119.6L704.9 119.7L706.7 119.6L708.4 119.5L710 119.2L711.4 119L712.7 118.6L713.8 118.2L714.7 117.7L715.3 117.2L715.8 116.6L716 116L715.9 115.4L715.6 114.8L715.1 114.2L714.3 113.6L713.3 113L712.2 112.5L710.8 112L709.3 111.6L707.7 111.2Z" fill="none" stroke="#15301a" stroke-width="1"/>
<clipPath id="h3"><path d="M505.2 66.9L503.4 67.2L501.6 67.6L500 68.1L498.5 68.7L497.1 69.4L496 70.2L495 71L494.3 71.8L493.7 72.7L493.5 73.6L493.4 74.5L493.6 75.3L494 76.2L494.7 76.9L495.6 77.7L496.7 78.3L498 78.9L499.4 79.3L501 79.7L502.7 79.9L504.5 80.1L506.3 80.1L508.2 80L510 79.8L511.8 79.5L513.6 79.1L515.2 78.5L516.7 77.9L518 77.2L519.2 76.5L520.2 75.7L520.9 74.8L521.4 73.9L521.7 73.1L521.8 72.2L521.6 71.3L521.1 70.5L520.5 69.7L519.6 69L518.5 68.3L517.2 67.8L515.8 67.3L514.2 67L512.5 66.7L510.7 66.6L508.9 66.6L507 66.6Z"/></clipPath>
<g clip-path="url(#h3)"><path d="M505.9 76.1L504.1 76.4L502.3 76.8L500.7 77.3L499.2 77.9L497.9 78.6L496.7 79.4L495.7 80.2L495 81L494.5 81.9L494.2 82.8L494.1 83.7L494.3 84.5L494.8 85.4L495.4 86.1L496.3 86.9L497.4 87.5L498.7 88.1L500.2 88.5L501.7 88.9L503.4 89.1L505.2 89.3L507.1 89.3L508.9 89.2L510.8 89L512.6 88.7L514.3 88.3L515.9 87.7L517.4 87.1L518.8 86.4L519.9 85.7L520.9 84.9L521.6 84L522.2 83.2L522.5 82.3L522.5 81.4L522.3 80.5L521.9 79.7L521.2 78.9L520.3 78.2L519.2 77.6L517.9 77L516.5 76.5L514.9 76.2L513.2 75.9L511.4 75.8L509.6 75.8L507.7 75.9Z" fill="#fff" stroke="#15301a" stroke-width="1"/></g>
<path d="M505.2 66.9L503.4 67.2L501.6 67.6L500 68.1L498.5 68.7L497.1 69.4L496 70.2L495 71L494.3 71.8L493.7 72.7L493.5 73.6L493.4 74.5L493.6 75.3L494 76.2L494.7 76.9L495.6 77.7L496.7 78.3L498 78.9L499.4 79.3L501 79.7L502.7 79.9L504.5 80.1L506.3 80.1L508.2 80L510 79.8L511.8 79.5L513.6 79.1L515.2 78.5L516.7 77.9L518 77.2L519.2 76.5L520.2 75.7L520.9 74.8L521.4 73.9L521.7 73.1L521.8 72.2L521.6 71.3L521.1 70.5L520.5 69.7L519.6 69L518.5 68.3L517.2 67.8L515.8 67.3L514.2 67L512.5 66.7L510.7 66.6L508.9 66.6L507 66.6Z" fill="none" stroke="#15301a" stroke-width="1"/>
<clipPath id="h4"><path d="M363.5 130.5L362.1 131.4L360.7 132.3L359.6 133.2L358.6 134.1L357.8 135.1L357.3 136L356.9 136.9L356.9 137.7L357 138.5L357.4 139.2L358 139.8L358.8 140.3L359.8 140.7L361 141L362.3 141.2L363.8 141.2L365.4 141.1L367.1 140.9L368.9 140.6L370.7 140.2L372.4 139.6L374.2 139L375.9 138.3L377.5 137.5L378.9 136.6L380.3 135.7L381.4 134.8L382.4 133.9L383.2 132.9L383.7 132L384 131.1L384.1 130.3L384 129.5L383.6 128.8L383 128.2L382.2 127.7L381.2 127.3L380 127L378.7 126.8L377.2 126.8L375.6 126.9L373.9 127.1L372.1 127.4L370.3 127.8L368.6 128.4L366.8 129L365.1 129.7Z"/></clipPath>
<g clip-path="url(#h4)"><path d="M366.5 139.5L365 140.4L363.7 141.3L362.6 142.2L361.6 143.2L360.8 144.1L360.3 145L359.9 145.9L359.8 146.8L360 147.5L360.3 148.2L360.9 148.8L361.7 149.3L362.8 149.7L364 150L365.3 150.2L366.8 150.2L368.4 150.2L370.1 150L371.9 149.6L373.6 149.2L375.4 148.7L377.2 148L378.9 147.3L380.4 146.5L381.9 145.7L383.2 144.8L384.4 143.8L385.4 142.9L386.1 142L386.7 141L387 140.2L387.1 139.3L387 138.5L386.6 137.8L386 137.2L385.2 136.7L384.2 136.3L383 136L381.7 135.9L380.2 135.8L378.5 135.9L376.9 136.1L375.1 136.4L373.3 136.9L371.5 137.4L369.8 138L368.1 138.7Z" fill="#fff" stroke="#15301a" stroke-width="1"/></g>
<path d="M363.5 130.5L362.1 131.4L360.7 132.3L359.6 133.2L358.6 134.1L357.8 135.1L357.3 136L356.9 136.9L356.9 137.7L357 138.5L357.4 139.2L358 139.8L358.8 140.3L359.8 140.7L361 141L362.3 141.2L363.8 141.2L365.4 141.1L367.1 140.9L368.9 140.6L370.7 140.2L372.4 139.6L374.2 139L375.9 138.3L377.5 137.5L378.9 136.6L380.3 135.7L381.4 134.8L382.4 133.9L383.2 132.9L383.7 132L384 131.1L384.1 130.3L384 129.5L383.6 128.8L383 128.2L382.2 127.7L381.2 127.3L380 127L378.7 126.8L377.2 126.8L375.6 126.9L373.9 127.1L372.1 127.4L370.3 127.8L368.6 128.4L366.8 129L365.1 129.7Z" fill="none" stroke="#15301a" stroke-width="1"/>
<clipPath id="h5"><path d="M222.4 202.9L221.7 204.1L221.1 205.3L220.8 206.5L220.7 207.6L220.8 208.8L221.2 209.8L221.8 210.8L222.7 211.6L223.7 212.4L224.9 213L226.3 213.5L227.8 213.8L229.4 213.9L231.1 213.9L232.9 213.8L234.7 213.5L236.5 213L238.3 212.4L240 211.7L241.6 210.8L243.1 209.9L244.4 208.8L245.6 207.7L246.5 206.6L247.3 205.4L247.9 204.1L248.2 202.9L248.3 201.8L248.1 200.7L247.7 199.6L247.1 198.6L246.3 197.8L245.3 197L244.1 196.4L242.7 196L241.2 195.6L239.5 195.5L237.8 195.5L236 195.6L234.2 195.9L232.4 196.4L230.7 197L229 197.7L227.4 198.6L225.9 199.5L224.6 200.6L223.4 201.7Z"/></clipPath>
<g clip-path="url(#h5)"><path d="M225 210.8L224.3 212L223.7 213.2L223.4 214.4L223.3 215.6L223.5 216.7L223.8 217.8L224.4 218.7L225.3 219.6L226.3 220.3L227.5 220.9L228.9 221.4L230.4 221.7L232 221.9L233.8 221.9L235.5 221.7L237.3 221.4L239.1 221L240.9 220.4L242.6 219.7L244.2 218.8L245.7 217.8L247 216.8L248.2 215.7L249.1 214.5L249.9 213.3L250.5 212.1L250.8 210.9L250.9 209.7L250.7 208.6L250.3 207.6L249.7 206.6L248.9 205.7L247.9 205L246.7 204.4L245.3 203.9L243.8 203.6L242.1 203.4L240.4 203.4L238.6 203.6L236.8 203.9L235 204.4L233.3 205L231.6 205.7L230 206.5L228.5 207.5L227.2 208.5L226 209.7Z" fill="#fff" stroke="#15301a" stroke-width="1"/></g>
<path d="M222.4 202.9L221.7 204.1L221.1 205.3L220.8 206.5L220.7 207.6L220.8 208.8L221.2 209.8L221.8 210.8L222.7 211.6L223.7 212.4L224.9 213L226.3 213.5L227.8 213.8L229.4 213.9L231.1 213.9L232.9 213.8L234.7 213.5L236.5 213L238.3 212.4L240 211.7L241.6 210.8L243.1 209.9L244.4 208.8L245.6 207.7L246.5 206.6L247.3 205.4L247.9 204.1L248.2 202.9L248.3 201.8L248.1 200.7L247.7 199.6L247.1 198.6L246.3 197.8L245.3 197L244.1 196.4L242.7 196L241.2 195.6L239.5 195.5L237.8 195.5L236 195.6L234.2 195.9L232.4 196.4L230.7 197L229 197.7L227.4 198.6L225.9 199.5L224.6 200.6L223.4 201.7Z" fill="none" stroke="#15301a" stroke-width="1"/>
<clipPath id="h6"><path d="M178.8 329.8L178.8 331.2L179 332.5L179.4 333.7L180 334.8L180.8 335.7L181.8 336.5L183 337.2L184.4 337.6L185.8 337.9L187.4 338L189 337.9L190.7 337.6L192.4 337.1L194.1 336.4L195.7 335.6L197.3 334.6L198.8 333.5L200.2 332.3L201.4 331L202.5 329.6L203.4 328.2L204 326.7L204.5 325.2L204.8 323.8L204.8 322.4L204.6 321.1L204.2 319.9L203.6 318.8L202.7 317.9L201.7 317.1L200.5 316.4L199.2 316L197.7 315.7L196.2 315.6L194.5 315.7L192.9 316L191.2 316.5L189.5 317.2L187.8 318L186.2 319L184.7 320.1L183.4 321.3L182.1 322.6L181.1 324L180.2 325.5L179.5 326.9L179.1 328.4Z"/></clipPath>
<g clip-path="url(#h6)"><path d="M183 336.3L183 337.7L183.2 339L183.6 340.2L184.2 341.3L185.1 342.2L186.1 343L187.3 343.7L188.6 344.1L190 344.4L191.6 344.5L193.2 344.4L194.9 344.1L196.6 343.6L198.3 342.9L200 342.1L201.6 341.1L203.1 340L204.4 338.8L205.6 337.5L206.7 336.1L207.6 334.6L208.3 333.2L208.7 331.7L209 330.3L209 328.9L208.8 327.6L208.4 326.4L207.8 325.3L207 324.4L206 323.5L204.8 322.9L203.4 322.5L202 322.2L200.4 322.1L198.8 322.2L197.1 322.5L195.4 323L193.7 323.7L192 324.5L190.5 325.5L189 326.6L187.6 327.8L186.4 329.1L185.3 330.5L184.4 331.9L183.8 333.4L183.3 334.9Z" fill="#fff" stroke="#15301a" stroke-width="1"/></g>
<path d="M178.8 329.8L178.8 331.2L179 332.5L179.4 333.7L180 334.8L180.8 335.7L181.8 336.5L183 337.2L184.4 337.6L185.8 337.9L187.4 338L189 337.9L190.7 337.6L192.4 337.1L194.1 336.4L195.7 335.6L197.3 334.6L198.8 333.5L200.2 332.3L201.4 331L202.5 329.6L203.4 328.2L204 326.7L204.5 325.2L204.8 323.8L204.8 322.4L204.6 321.1L204.2 319.9L203.6 318.8L202.7 317.9L201.7 317.1L200.5 316.4L199.2 316L197.7 315.7L196.2 315.6L194.5 315.7L192.9 316L191.2 316.5L189.5 317.2L187.8 318L186.2 319L184.7 320.1L183.4 321.3L182.1 322.6L181.1 324L180.2 325.5L179.5 326.9L179.1 328.4Z" fill="none" stroke="#15301a" stroke-width="1"/>
<clipPath id="h7"><path d="M204.3 444.5L205.1 445.7L206.2 446.7L207.4 447.7L208.8 448.4L210.4 449L212 449.4L213.7 449.6L215.5 449.6L217.3 449.4L219.1 449L220.9 448.5L222.6 447.7L224.2 446.8L225.7 445.7L227 444.5L228.2 443.2L229.2 441.8L229.9 440.4L230.5 438.9L230.8 437.4L230.8 435.9L230.7 434.4L230.3 433L229.6 431.7L228.8 430.5L227.7 429.4L226.5 428.5L225.1 427.8L223.6 427.2L221.9 426.8L220.2 426.6L218.4 426.6L216.6 426.8L214.8 427.1L213 427.7L211.3 428.5L209.7 429.4L208.2 430.4L206.9 431.6L205.7 432.9L204.8 434.3L204 435.8L203.5 437.3L203.2 438.8L203.1 440.3L203.3 441.8L203.7 443.2Z"/></clipPath>
<g clip-path="url(#h7)"><path d="M206.6 450.6L207.5 451.8L208.5 452.9L209.8 453.8L211.2 454.5L212.7 455.1L214.3 455.5L216.1 455.7L217.9 455.7L219.7 455.5L221.5 455.2L223.3 454.6L225 453.8L226.6 452.9L228 451.9L229.4 450.7L230.5 449.4L231.5 448L232.3 446.5L232.8 445L233.1 443.5L233.2 442L233 440.5L232.6 439.2L232 437.8L231.1 436.6L230.1 435.6L228.9 434.6L227.5 433.9L225.9 433.3L224.3 432.9L222.6 432.7L220.8 432.7L219 432.9L217.1 433.3L215.4 433.9L213.7 434.6L212.1 435.5L210.6 436.6L209.3 437.8L208.1 439.1L207.1 440.5L206.4 441.9L205.8 443.4L205.5 444.9L205.4 446.4L205.6 447.9L206 449.3Z" fill="#fff" stroke="#15301a" stroke-width="1"/></g>
<path d="M204.3 444.5L205.1 445.7L206.2 446.7L207.4 447.7L208.8 448.4L210.4 449L212 449.4L213.7 449.6L215.5 449.6L217.3 449.4L219.1 449L220.9 448.5L222.6 447.7L224.2 446.8L225.7 445.7L227 444.5L228.2 443.2L229.2 441.8L229.9 440.4L230.5 438.9L230.8 437.4L230.8 435.9L230.7 434.4L230.3 433L229.6 431.7L228.8 430.5L227.7 429.4L226.5 428.5L225.1 427.8L223.6 427.2L221.9 426.8L220.2 426.6L218.4 426.6L216.6 426.8L214.8 427.1L213 427.7L211.3 428.5L209.7 429.4L208.2 430.4L206.9 431.6L205.7 432.9L204.8 434.3L204 435.8L203.5 437.3L203.2 438.8L203.1 440.3L203.3 441.8L203.7 443.2Z" fill="none" stroke="#15301a" stroke-width="1"/>
<clipPath id="h8"><path d="M290.9 558.7L292.3 559.6L293.9 560.3L295.5 560.9L297.3 561.2L299.1 561.3L300.9 561.2L302.7 560.8L304.5 560.2L306.2 559.5L307.8 558.5L309.3 557.4L310.6 556.1L311.7 554.6L312.6 553.1L313.3 551.5L313.8 549.8L314.1 548.1L314.1 546.4L313.9 544.7L313.5 543.1L312.8 541.6L311.9 540.2L310.8 538.9L309.5 537.8L308.1 536.8L306.5 536.1L304.9 535.6L303.1 535.3L301.3 535.2L299.5 535.3L297.7 535.6L295.9 536.2L294.2 537L292.6 537.9L291.1 539.1L289.8 540.4L288.7 541.8L287.8 543.4L287.1 545L286.6 546.7L286.3 548.4L286.3 550.1L286.5 551.7L286.9 553.4L287.6 554.9L288.5 556.3L289.6 557.6Z"/></clipPath>
<g clip-path="url(#h8)"><path d="M293 562.8L294.4 563.8L296 564.5L297.7 565L299.4 565.4L301.2 565.4L303 565.3L304.9 565L306.6 564.4L308.3 563.6L309.9 562.7L311.4 561.5L312.7 560.2L313.8 558.8L314.7 557.3L315.5 555.6L315.9 554L316.2 552.2L316.2 550.5L316 548.9L315.6 547.3L314.9 545.7L314 544.3L312.9 543L311.6 541.9L310.2 541L308.6 540.3L307 539.7L305.2 539.4L303.4 539.3L301.6 539.5L299.8 539.8L298 540.4L296.3 541.1L294.7 542.1L293.3 543.2L292 544.5L290.8 546L289.9 547.5L289.2 549.1L288.7 550.8L288.4 552.5L288.4 554.2L288.6 555.9L289.1 557.5L289.7 559L290.6 560.4L291.7 561.7Z" fill="#fff" stroke="#15301a" stroke-width="1"/></g>
<path d="M290.9 558.7L292.3 559.6L293.9 560.3L295.5 560.9L297.3 561.2L299.1 561.3L300.9 561.2L302.7 560.8L304.5 560.2L306.2 559.5L307.8 558.5L309.3 557.4L310.6 556.1L311.7 554.6L312.6 553.1L313.3 551.5L313.8 549.8L314.1 548.1L314.1 546.4L313.9 544.7L313.5 543.1L312.8 541.6L311.9 540.2L310.8 538.9L309.5 537.8L308.1 536.8L306.5 536.1L304.9 535.6L303.1 535.3L301.3 535.2L299.5 535.3L297.7 535.6L295.9 536.2L294.2 537L292.6 537.9L291.1 539.1L289.8 540.4L288.7 541.8L287.8 543.4L287.1 545L286.6 546.7L286.3 548.4L286.3 550.1L286.5 551.7L286.9 553.4L287.6 554.9L288.5 556.3L289.6 557.6Z" fill="none" stroke="#15301a" stroke-width="1"/>
<clipPath id="h9"><path d="M464.4 609.7L466.3 610L468.1 610.1L470 610L471.8 609.7L473.6 609.2L475.2 608.5L476.8 607.6L478.2 606.5L479.5 605.3L480.5 604L481.3 602.5L482 601L482.3 599.4L482.5 597.8L482.4 596.1L482 594.5L481.5 593L480.7 591.5L479.6 590.2L478.4 589L477 587.9L475.5 587L473.8 586.2L472.1 585.7L470.3 585.4L468.4 585.3L466.5 585.4L464.7 585.7L462.9 586.2L461.3 586.9L459.7 587.8L458.3 588.9L457.1 590.1L456 591.5L455.2 592.9L454.5 594.5L454.2 596.1L454 597.7L454.1 599.3L454.5 600.9L455.1 602.4L455.9 603.9L456.9 605.3L458.1 606.5L459.5 607.6L461 608.5L462.7 609.2Z"/></clipPath>
<g clip-path="url(#h9)"><path d="M464.6 614.8L466.4 615.1L468.2 615.2L470.1 615.1L471.9 614.8L473.7 614.3L475.4 613.6L476.9 612.7L478.3 611.6L479.6 610.4L480.6 609.1L481.5 607.6L482.1 606.1L482.5 604.5L482.6 602.9L482.5 601.2L482.2 599.6L481.6 598.1L480.8 596.6L479.8 595.3L478.5 594.1L477.2 593L475.6 592.1L474 591.3L472.2 590.8L470.4 590.5L468.5 590.4L466.7 590.5L464.8 590.8L463.1 591.3L461.4 592L459.8 592.9L458.4 594L457.2 595.2L456.1 596.6L455.3 598L454.7 599.6L454.3 601.2L454.2 602.8L454.3 604.4L454.6 606L455.2 607.5L456 609L457 610.4L458.2 611.6L459.6 612.7L461.1 613.6L462.8 614.3Z" fill="#fff" stroke="#15301a" stroke-width="1"/></g>
<path d="M464.4 609.7L466.3 610L468.1 610.1L470 610L471.8 609.7L473.6 609.2L475.2 608.5L476.8 607.6L478.2 606.5L479.5 605.3L480.5 604L481.3 602.5L482 601L482.3 599.4L482.5 597.8L482.4 596.1L482 594.5L481.5 593L480.7 591.5L479.6 590.2L478.4 589L477 587.9L475.5 587L473.8 586.2L472.1 585.7L470.3 585.4L468.4 585.3L466.5 585.4L464.7 585.7L462.9 586.2L461.3 586.9L459.7 587.8L458.3 588.9L457.1 590.1L456 591.5L455.2 592.9L454.5 594.5L454.2 596.1L454 597.7L454.1 599.3L454.5 600.9L455.1 602.4L455.9 603.9L456.9 605.3L458.1 606.5L459.5 607.6L461 608.5L462.7 609.2Z" fill="none" stroke="#15301a" stroke-width="1"/>
<clipPath id="h10"><path d="M615.3 644.8L617.2 644.6L618.9 644.2L620.6 643.7L622.2 642.9L623.6 641.9L624.9 640.7L625.9 639.4L626.8 637.9L627.5 636.3L627.9 634.7L628.1 633L628.1 631.2L627.8 629.5L627.3 627.8L626.5 626.2L625.6 624.7L624.4 623.2L623.1 622L621.6 620.8L620 619.9L618.3 619.2L616.5 618.6L614.7 618.3L612.9 618.3L611.1 618.4L609.3 618.8L607.6 619.4L606.1 620.2L604.6 621.2L603.4 622.3L602.3 623.7L601.4 625.1L600.7 626.7L600.3 628.4L600.1 630.1L600.1 631.8L600.4 633.5L600.9 635.2L601.7 636.8L602.6 638.4L603.8 639.8L605.1 641.1L606.6 642.2L608.2 643.1L609.9 643.9L611.7 644.4L613.5 644.7Z"/></clipPath>
<g clip-path="url(#h10)"><path d="M613.6 648.6L615.4 648.4L617.2 648.1L618.8 647.5L620.4 646.7L621.8 645.7L623.1 644.5L624.2 643.2L625.1 641.7L625.7 640.1L626.2 638.5L626.4 636.8L626.3 635.1L626 633.3L625.5 631.6L624.8 630L623.8 628.5L622.7 627L621.3 625.8L619.9 624.7L618.3 623.7L616.5 623L614.8 622.5L612.9 622.2L611.1 622.1L609.3 622.2L607.5 622.6L605.9 623.2L604.3 624L602.9 625L601.6 626.2L600.5 627.5L599.6 629L599 630.5L598.5 632.2L598.3 633.9L598.4 635.6L598.6 637.3L599.2 639L599.9 640.7L600.9 642.2L602 643.6L603.3 644.9L604.8 646L606.4 647L608.1 647.7L609.9 648.2L611.7 648.5Z" fill="#fff" stroke="#15301a" stroke-width="1"/></g>
<path d="M615.3 644.8L617.2 644.6L618.9 644.2L620.6 643.7L622.2 642.9L623.6 641.9L624.9 640.7L625.9 639.4L626.8 637.9L627.5 636.3L627.9 634.7L628.1 633L628.1 631.2L627.8 629.5L627.3 627.8L626.5 626.2L625.6 624.7L624.4 623.2L623.1 622L621.6 620.8L620 619.9L618.3 619.2L616.5 618.6L614.7 618.3L612.9 618.3L611.1 618.4L609.3 618.8L607.6 619.4L606.1 620.2L604.6 621.2L603.4 622.3L602.3 623.7L601.4 625.1L600.7 626.7L600.3 628.4L600.1 630.1L600.1 631.8L600.4 633.5L600.9 635.2L601.7 636.8L602.6 638.4L603.8 639.8L605.1 641.1L606.6 642.2L608.2 643.1L609.9 643.9L611.7 644.4L613.5 644.7Z" fill="none" stroke="#15301a" stroke-width="1"/>
<clipPath id="h11"><path d="M806.9 574.2L808.4 573.4L809.6 572.5L810.7 571.4L811.6 570.1L812.3 568.8L812.7 567.3L813 565.8L812.9 564.3L812.7 562.7L812.2 561.1L811.5 559.6L810.6 558.2L809.4 556.8L808.1 555.5L806.7 554.4L805.1 553.5L803.4 552.7L801.7 552.1L799.9 551.7L798.1 551.4L796.3 551.4L794.5 551.6L792.8 552L791.3 552.6L789.9 553.4L788.6 554.3L787.5 555.4L786.6 556.7L785.9 558L785.5 559.5L785.3 561L785.3 562.5L785.5 564.1L786 565.7L786.7 567.2L787.7 568.6L788.8 570L790.1 571.2L791.5 572.4L793.1 573.3L794.8 574.1L796.6 574.7L798.4 575.1L800.2 575.4L802 575.4L803.7 575.2L805.4 574.8Z"/></clipPath>
<g clip-path="url(#h11)"><path d="M804.6 579.8L806 579.1L807.3 578.1L808.4 577L809.2 575.8L809.9 574.4L810.4 573L810.6 571.5L810.6 569.9L810.3 568.3L809.8 566.8L809.1 565.3L808.2 563.8L807.1 562.4L805.8 561.2L804.3 560.1L802.7 559.1L801.1 558.3L799.3 557.7L797.5 557.3L795.7 557.1L793.9 557.1L792.1 557.3L790.5 557.7L788.9 558.2L787.5 559L786.2 560L785.1 561.1L784.2 562.3L783.6 563.7L783.1 565.1L782.9 566.6L782.9 568.2L783.2 569.7L783.7 571.3L784.4 572.8L785.3 574.3L786.4 575.6L787.7 576.9L789.2 578L790.8 579L792.4 579.8L794.2 580.4L796 580.8L797.8 581L799.6 581L801.4 580.8L803 580.4Z" fill="#fff" stroke="#15301a" stroke-width="1"/></g>
<path d="M806.9 574.2L808.4 573.4L809.6 572.5L810.7 571.4L811.6 570.1L812.3 568.8L812.7 567.3L813 565.8L812.9 564.3L812.7 562.7L812.2 561.1L811.5 559.6L810.6 558.2L809.4 556.8L808.1 555.5L806.7 554.4L805.1 553.5L803.4 552.7L801.7 552.1L799.9 551.7L798.1 551.4L796.3 551.4L794.5 551.6L792.8 552L791.3 552.6L789.9 553.4L788.6 554.3L787.5 555.4L786.6 556.7L785.9 558L785.5 559.5L785.3 561L785.3 562.5L785.5 564.1L786 565.7L786.7 567.2L787.7 568.6L788.8 570L790.1 571.2L791.5 572.4L793.1 573.3L794.8 574.1L796.6 574.7L798.4 575.1L800.2 575.4L802 575.4L803.7 575.2L805.4 574.8Z" fill="none" stroke="#15301a" stroke-width="1"/>
<clipPath id="h12"><path d="M907.9 523.3L908.7 522.2L909.3 521L909.8 519.7L910 518.3L909.9 516.8L909.7 515.3L909.3 513.7L908.6 512.1L907.7 510.6L906.7 509.2L905.5 507.8L904.2 506.5L902.7 505.3L901.1 504.3L899.5 503.5L897.8 502.8L896.2 502.4L894.5 502.1L892.9 502L891.3 502.2L889.9 502.5L888.6 503.1L887.4 503.8L886.4 504.7L885.5 505.7L884.9 506.9L884.5 508.2L884.3 509.7L884.3 511.1L884.5 512.7L885 514.2L885.6 515.8L886.5 517.3L887.5 518.8L888.7 520.2L890.1 521.4L891.5 522.6L893.1 523.6L894.7 524.4L896.4 525.1L898.1 525.6L899.8 525.8L901.4 525.9L902.9 525.8L904.4 525.4L905.7 524.9L906.9 524.2Z"/></clipPath>
<g clip-path="url(#h12)"><path d="M903.4 529L904.2 527.9L904.8 526.7L905.3 525.4L905.5 524L905.5 522.5L905.2 521L904.8 519.4L904.1 517.9L903.3 516.3L902.2 514.9L901 513.5L899.7 512.2L898.2 511.1L896.7 510.1L895 509.2L893.4 508.6L891.7 508.1L890 507.8L888.4 507.8L886.8 507.9L885.4 508.2L884.1 508.8L882.9 509.5L881.9 510.4L881 511.4L880.4 512.6L880 514L879.8 515.4L879.8 516.9L880 518.4L880.5 520L881.2 521.5L882 523L883 524.5L884.2 525.9L885.6 527.2L887.1 528.3L888.6 529.3L890.2 530.1L891.9 530.8L893.6 531.3L895.3 531.5L896.9 531.6L898.4 531.5L899.9 531.1L901.2 530.6L902.4 529.9Z" fill="#fff" stroke="#15301a" stroke-width="1"/></g>
<path d="M907.9 523.3L908.7 522.2L909.3 521L909.8 519.7L910 518.3L909.9 516.8L909.7 515.3L909.3 513.7L908.6 512.1L907.7 510.6L906.7 509.2L905.5 507.8L904.2 506.5L902.7 505.3L901.1 504.3L899.5 503.5L897.8 502.8L896.2 502.4L894.5 502.1L892.9 502L891.3 502.2L889.9 502.5L888.6 503.1L887.4 503.8L886.4 504.7L885.5 505.7L884.9 506.9L884.5 508.2L884.3 509.7L884.3 511.1L884.5 512.7L885 514.2L885.6 515.8L886.5 517.3L887.5 518.8L888.7 520.2L890.1 521.4L891.5 522.6L893.1 523.6L894.7 524.4L896.4 525.1L898.1 525.6L899.8 525.8L901.4 525.9L902.9 525.8L904.4 525.4L905.7 524.9L906.9 524.2Z" fill="none" stroke="#15301a" stroke-width="1"/>
<clipPath id="h13"><path d="M973.9 364.6L973.9 363.4L973.6 362.1L973.1 360.7L972.4 359.4L971.4 358.1L970.3 356.9L969.1 355.7L967.6 354.6L966.1 353.6L964.4 352.8L962.7 352.1L960.9 351.5L959.2 351.1L957.4 350.9L955.7 350.8L954.1 350.9L952.6 351.2L951.2 351.7L950 352.3L949 353.1L948.1 354L947.5 355L947.1 356.1L946.9 357.3L946.9 358.6L947.2 359.9L947.7 361.2L948.4 362.5L949.3 363.8L950.5 365.1L951.7 366.2L953.2 367.3L954.7 368.3L956.4 369.2L958.1 369.9L959.9 370.4L961.6 370.8L963.4 371L965.1 371.1L966.7 371L968.2 370.7L969.6 370.2L970.8 369.6L971.8 368.9L972.7 368L973.3 366.9L973.7 365.8Z"/></clipPath>
<g clip-path="url(#h13)"><path d="M970.6 372L970.6 370.7L970.3 369.4L969.8 368.1L969.1 366.8L968.2 365.5L967.1 364.2L965.8 363L964.4 362L962.8 361L961.2 360.1L959.4 359.4L957.7 358.9L955.9 358.5L954.2 358.2L952.5 358.2L950.9 358.3L949.3 358.6L948 359L946.7 359.7L945.7 360.4L944.9 361.3L944.2 362.3L943.8 363.5L943.6 364.7L943.7 365.9L943.9 367.2L944.4 368.6L945.2 369.9L946.1 371.2L947.2 372.4L948.5 373.6L949.9 374.7L951.5 375.7L953.1 376.5L954.8 377.2L956.6 377.8L958.4 378.2L960.1 378.4L961.8 378.5L963.4 378.3L964.9 378L966.3 377.6L967.5 377L968.6 376.2L969.4 375.3L970 374.3L970.5 373.2Z" fill="#fff" stroke="#15301a" stroke-width="1"/></g>
<path d="M973.9 364.6L973.9 363.4L973.6 362.1L973.1 360.7L972.4 359.4L971.4 358.1L970.3 356.9L969.1 355.7L967.6 354.6L966.1 353.6L964.4 352.8L962.7 352.1L960.9 351.5L959.2 351.1L957.4 350.9L955.7 350.8L954.1 350.9L952.6 351.2L951.2 351.7L950 352.3L949 353.1L948.1 354L947.5 355L947.1 356.1L946.9 357.3L946.9 358.6L947.2 359.9L947.7 361.2L948.4 362.5L949.3 363.8L950.5 365.1L951.7 366.2L953.2 367.3L954.7 368.3L956.4 369.2L958.1 369.9L959.9 370.4L961.6 370.8L963.4 371L965.1 371.1L966.7 371L968.2 370.7L969.6 370.2L970.8 369.6L971.8 368.9L972.7 368L973.3 366.9L973.7 365.8Z" fill="none" stroke="#15301a" stroke-width="1"/>
<g shape-rendering="auto">
<path d="M996.2 657L982.2 641.5L981.6 637.5L983 630.8L991.5 634.5L991 641.5L995 650Z" fill="#00e000"/>
<path d="M985 633L993.5 652" stroke="#00b400" stroke-width="1.2" fill="none"/>
<path d="M997 657.3L1020.5 648.6L1019.8 643.5L1032.8 646.4L1023 655.2L1022 651.8L998 659Z" fill="#f00000"/>
<path d="M1020.5 644L1023 655" stroke="#c80000" stroke-width="1" fill="none"/>
<circle cx="1006" cy="631.5" r="5.3" fill="#00eef4"/>
<circle cx="1004.8" cy="630.5" r="3" fill="#30f8ff"/>
<path d="M994 657.5V638.5L991.8 636.5V634L996.8 628.8L1002.6 634V637L999.6 639V657.5Q996.8 659.5 994 657.5Z" fill="#0000f0"/>
<text x="976.2" y="629.6" font-family="Liberation Sans,sans-serif" font-weight="bold" font-size="12" fill="#00e000">Y</text>
<text x="992.8" y="627.8" font-family="Liberation Sans,sans-serif" font-weight="bold" font-size="12" fill="#0000f0">Z</text>
<text x="1033.6" y="650.2" font-family="Liberation Sans,sans-serif" font-weight="bold" font-size="12" fill="#f00000">X</text>
</g>
</svg>
<div class="t" style="left:51px;top:6px">displacement magnitude</div>
<div class="t" style="left:92px;top:26px">14.75</div>
<div class="t" style="left:92px;top:46px">13.11</div>
<div class="t" style="left:92px;top:66px">11.47</div>
<div class="t" style="left:92px;top:86px">9.833</div>
<div class="t" style="left:92px;top:106px">8.195</div>
<div class="t" style="left:92px;top:126px">6.556</div>
<div class="t" style="left:92px;top:146px">4.918</div>
<div class="t" style="left:92px;top:166px">3.279</div>
<div class="t" style="left:92px;top:186px">1.641</div>
<div class="t" style="left:92px;top:206px">0.002424</div>
<div class="sw" style="top:33px;background:#ff3300"></div>
<div class="sw" style="top:53px;background:#ffa500"></div>
<div class="sw" style="top:73px;background:#e6ff00"></div>
<div class="sw" style="top:93px;background:#73ff00"></div>
<div class="sw" style="top:113px;background:#00ff00"></div>
<div class="sw" style="top:133px;background:#00ff73"></div>
<div class="sw" style="top:153px;background:#00ffe6"></div>
<div class="sw" style="top:173px;background:#00a5ff"></div>
<div class="sw" style="top:193px;background:#0033ff"></div>
<div class="t" style="left:91px;top:231px">mm</div>
<div class="t" style="left:51px;top:689px">Deformation scale factor 3</div>
<svg width="60" height="200" viewBox="0 0 60 200" style="position:absolute;left:20px;top:22px" shape-rendering="crispEdges">
<rect x="11.5" y="11" width="4.5" height="180" fill="#e2e6e6" stroke="#c4c4c4" stroke-width="1"/>
<path d="M8.5 5.5H16L22 11.5H8.5Z" fill="#d2d2d2" stroke="#8c8c8c" stroke-width="1"/>
<path d="M22 11.5H31" stroke="#b0b0b0" stroke-width="1"/>
<path d="M8.5 189.5H22L16 195.5H8.5Z" fill="#d2d2d2" stroke="#8c8c8c" stroke-width="1"/>
<path d="M22 189.5H31" stroke="#b0b0b0" stroke-width="1"/>
</svg>
</body></html>
